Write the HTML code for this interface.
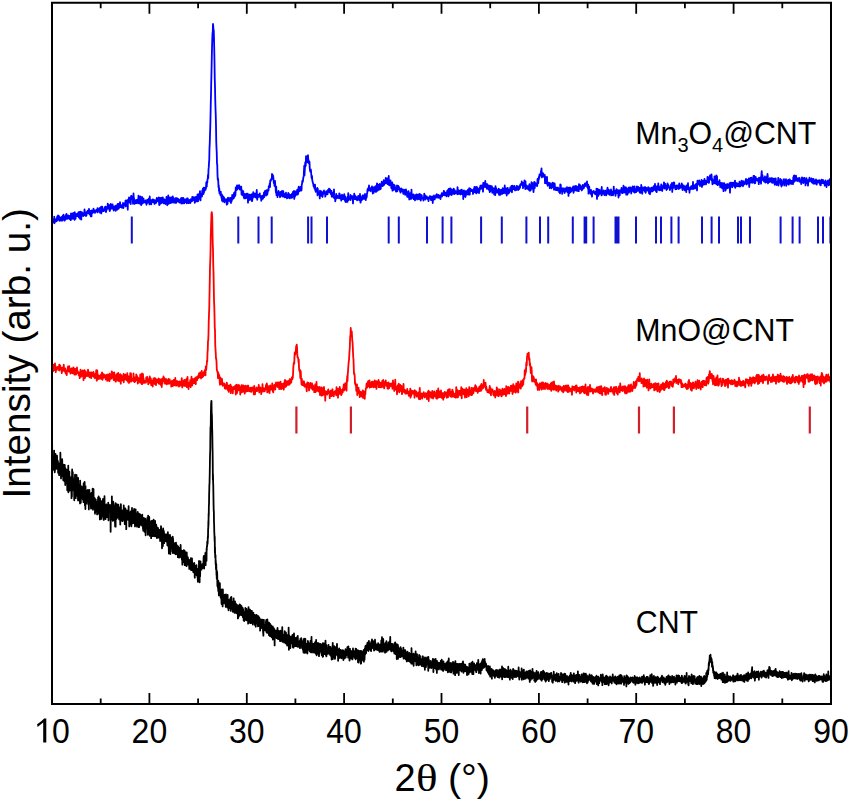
<!DOCTYPE html><html><head><meta charset="utf-8"><style>html,body{margin:0;padding:0;background:#fff;}svg{display:block;font-family:"Liberation Sans",sans-serif;}</style></head><body>
<svg width="850" height="801" viewBox="0 0 850 801">
<rect width="850" height="801" fill="#fff"/>
<path transform="translate(52.000,0) scale(0.25,0.1)" vector-effect="non-scaling-stroke" fill="none" stroke="#0000ff" stroke-width="1.8" stroke-linejoin="round" d="M0 2209l1 26 1-4 1-35 1 4 1-6 1 22 1-13 1 15 1-52 1 67 1-34 1 15 1-17 1-5 1 16 1 7 1-21 1 0 1 16 1-31 1-14 1 38 1-22 1-26 1 22 1 6 1-15 1-6 1 30 1 16 1-23 1-11 1 22 1 6 1-21 1 17 1 9 1-25 1-13 1 23 1-3 1 16 1-48 1 12 1-4 1-18 1 36 1 8 1-26 1 42 1-12 1-4 1-6 1 11 1-46 1 38 1-1 1-48 1 42 1-12 1 20 1-25 1 8 1 6 1-24 1 29 1-15 1 11 1-20 1 31 1-10 1-16 1 16 1 12 1 10 1-68 1 49 1-9 1-12 1-19 1 45 1-51 1 36 1 14 1-58 1 25 1-20 1 30 1 25 1 10 1-77 1 24 1 25 1 17 1-24 1-24 1 21 1-7 1-4 1-11 1 22 1-3 1-8 1-3 1-22 1 15 1 34 1-29 1-25 1 55 1-17 1 31 1-41 1-11 1-21 1 55 1 25 1-69 1 3 1 25 1-30 1 11 1-2 1 10 1 18 1-22 1 17 1-27 1 14 1-50 1 13 1 45 1-28 1 22 1-1 1 15 1-11 1 4 1-23 1-13 1-1 1 4 1-13 1 11 1 9 1 6 1-12 1-33 1 37 1 5 1 17 1-11 1-25 1-2 1 54 1-26 1 21 1 6 1-60 1 24 1 0 1 2 1-1 1-7 1-1 1-35 1 27 1-13 1 17 1-12 1 21 1 3 1-10 1-1 1-5 1-11 1 5 1-7 1 17 1-8 1 10 1-38 1 43 1-33 1 0 1 10 1-8 1 16 1-18 1-10 1 4 1 42 1-26 1-24 1 22 1-31 1 66 1-67 1 39 1 1 1-40 1 34 1 13 1-11 1-5 1 14 1-17 1 3 1-10 1 15 1-32 1 34 1-27 1-12 1 29 1 26 1-16 1-30 1 24 1-24 1 6 1 4 1-49 1 50 1-25 1 6 1-16 1-1 1 11 1 35 1 16 1-35 1 22 1-27 1-34 1 41 1 5 1-17 1 14 1 5 1-29 1-13 1 25 1-1 1-3 1 26 1 15 1-43 1 22 1 4 1-5 1 6 1-29 1 22 1 26 1-25 1-29 1 24 1 13 1-19 1-19 1 42 1-56 1 34 1-11 1-24 1 48 1-18 1-31 1 35 1-21 1-30 1 24 1 18 1 7 1-10 1-3 1 8 1-14 1 27 1-22 1 2 1 4 1-33 1 6 1 44 1-26 1-13 1 11 1-18 1 14 1-20 1 17 1-38 1 57 1-39 1-22 1 25 1-4 1 9 1-27 1 29 1 62 1-100 1 30 1-16 1 7 1-43 1 10 1 28 1-14 1 29 1-52 1 14 1 50 1-76 1-6 1 16 1 0 1 18 1-12 1-16 1 23 1 51 1-25 1-78 1 55 1-12 1 32 1-14 1 43 1-18 1 0 1-14 1-3 1 8 1 19 1-14 1-17 1 33 1-21 1-5 1-13 1 5 1-1 1-42 1 77 1-9 1-15 1 26 1-12 1-2 1-56 1 44 1 16 1 21 1 5 1-8 1-52 1-21 1 56 1-11 1 18 1-21 1 6 1-34 1 39 1-18 1 16 1 2 1-12 1 9 1-7 1 16 1-6 1-21 1 0 1 46 1-37 1 22 1-12 1-19 1-4 1 17 1 3 1 7 1-38 1 13 1 10 1 34 1-79 1 56 1-20 1 19 1-18 1 17 1 24 1-25 1 2 1-1 1-23 1 26 1-15 1-13 1 16 1-4 1 19 1-16 1-9 1 39 1-9 1 5 1-13 1-14 1-7 1 3 1 25 1-17 1-32 1 29 1-28 1 31 1-27 1-1 1 27 1-4 1-32 1 49 1 28 1-73 1 66 1-51 1 4 1 6 1-25 1 55 1-16 1-25 1 9 1-25 1 23 1 26 1-53 1 25 1 12 1 18 1 6 1-37 1-5 1 23 1-16 1 1 1 28 1 12 1-29 1-9 1 15 1-49 1 37 1-21 1 69 1-33 1-12 1-7 1-46 1 65 1 18 1-47 1 28 1 1 1-46 1 50 1 8 1-22 1-6 1 17 1-47 1 33 1 19 1-46 1 45 1-29 1-33 1 40 1-18 1 26 1-30 1 45 1-36 1 22 1-19 1 6 1 30 1-20 1-12 1-17 1 48 1-8 1-21 1 11 1-25 1 0 1 4 1 24 1-1 1-21 1 29 1 1 1-12 1 18 1-27 1 4 1 12 1-10 1 16 1-40 1 53 1-43 1 12 1-24 1 40 1 14 1-3 1-5 1-47 1 16 1 6 1-9 1 42 1-19 1-4 1 11 1-29 1 1 1 0 1 28 1-3 1 4 1 10 1-49 1 16 1 13 1-30 1 16 1 31 1 1 1-1 1-21 1-6 1 26 1-30 1 14 1 19 1-35 1-5 1 11 1 12 1-3 1-7 1 7 1-43 1 14 1 20 1-23 1-9 1 2 1 6 1 14 1-18 1 25 1 29 1-38 1 28 1-20 1-29 1 16 1-15 1 34 1-39 1 48 1-16 1-53 1 55 1 14 1-49 1 34 1-57 1 39 1-41 1 40 1-48 1-20 1 58 1 34 1-61 1 24 1-18 1-13 1 14 1 15 1-62 1 31 1-10 1-41 1 55 1 2 1-63 1 48 1-38 1-9 1 29 1-29 1-1 1 20 1-8 1-11 1-50 1-9 1 48 1-49 1 11 1-38 1 1 1-43 1 32 1-86 1-21 1-48 1-28 1-117 1-46 1-86 1-77 1-102 1-126 1-99 1-128 1-99 1-124 1-115 1-80 1-66 1-13 1-80 1 20 1 55 1-14 1 86 1 108 1 130 1 166 1 77 1 134 1 86 1 63 1 104 1 160 1 67 1 45 1 114 1 4 1 103 1 48 1-9 1 22 1 64 1-19 1 56 1-27 1 51 1-4 1-3 1-2 1 29 1-38 1 37 1 2 1 25 1-36 1 63 1-38 1-14 1 52 1 8 1-35 1-12 1 20 1-13 1 9 1 39 1-22 1-4 1 5 1-7 1 19 1 1 1-24 1 10 1 46 1-39 1-12 1 44 1-40 1-23 1 36 1-32 1 8 1 16 1-10 1-14 1 4 1-2 1 34 1-39 1 2 1 50 1-53 1 38 1-6 1-32 1-28 1 34 1 1 1 3 1-22 1 18 1-1 1-54 1 45 1-31 1-20 1-1 1 38 1-24 1-61 1 32 1-10 1-6 1-12 1-24 1 42 1-39 1 8 1-7 1-4 1 29 1-7 1-20 1-4 1 12 1 31 1-13 1 6 1-6 1 6 1 14 1-36 1 75 1-43 1 10 1 43 1-18 1 2 1-8 1-16 1 39 1 24 1-38 1 48 1-46 1 10 1 27 1-8 1 16 1-27 1-5 1-15 1 14 1 3 1-6 1 35 1-19 1-26 1 89 1-66 1-8 1 49 1-1 1-47 1-7 1 9 1 43 1-30 1-10 1 15 1 23 1-52 1 19 1-21 1 70 1-8 1-19 1-23 1 15 1-56 1 46 1-33 1-1 1 11 1 7 1 17 1 2 1-9 1-25 1 33 1-16 1 26 1-42 1-37 1 46 1 52 1-33 1-14 1 22 1-7 1-1 1-19 1 11 1 3 1-17 1-9 1 25 1 17 1-7 1-3 1 0 1 42 1-47 1 15 1 18 1-38 1 3 1 16 1 12 1-28 1 0 1-6 1-27 1 45 1-28 1-31 1 30 1-33 1 12 1 18 1-21 1 37 1-54 1 30 1 2 1 13 1-16 1-20 1-9 1-10 1 16 1-44 1 14 1-21 1-3 1-20 1 38 1-66 1 8 1-9 1-1 1-11 1-7 1 7 1-52 1 29 1-23 1 33 1-24 1 11 1 26 1 38 1-7 1 4 1 33 1-37 1-14 1 43 1 12 1 39 1 26 1-62 1 84 1-12 1-9 1-4 1 45 1-42 1-8 1 16 1-28 1 39 1-9 1 11 1 2 1-27 1 48 1-45 1 39 1-49 1 40 1-23 1 18 1-14 1-30 1 22 1 24 1 11 1-42 1-12 1 25 1 13 1-8 1-3 1 33 1 2 1-4 1-34 1 21 1-6 1-24 1 46 1-16 1-11 1 38 1-13 1 1 1 7 1-10 1-39 1 17 1 28 1-36 1 16 1 7 1 21 1-3 1-9 1-22 1 22 1-8 1-14 1 30 1-18 1-25 1 40 1-31 1 16 1-42 1 29 1-19 1-1 1-19 1 80 1-47 1 7 1 17 1-25 1 11 1-38 1 30 1-13 1 17 1-8 1-33 1-11 1 15 1 34 1-9 1-3 1-51 1-16 1 38 1 3 1-10 1 15 1-15 1-26 1 0 1 15 1-9 1-10 1 38 1-60 1-2 1-33 1 2 1 6 1-12 1-28 1-3 1-21 1-54 1-43 1 96 1-45 1-34 1-49 1-5 1 38 1-96 1 38 1 13 1-23 1 6 1-21 1 49 1-68 1-3 1 39 1 31 1-20 1 33 1-19 1 1 1 66 1 19 1 14 1-24 1 1 1 15 1 33 1 30 1 12 1-26 1 45 1 8 1 13 1 7 1 6 1 25 1-2 1 10 1-12 1 28 1-5 1-35 1 56 1-11 1 28 1-19 1 4 1 9 1-2 1-7 1-25 1 74 1-67 1 26 1 22 1-5 1 5 1 5 1 10 1-18 1 53 1-78 1 25 1-11 1-3 1 17 1 24 1-43 1 0 1 29 1-3 1 29 1-18 1-16 1-11 1 11 1-7 1-24 1 28 1-3 1-1 1-4 1 42 1-20 1 5 1-32 1-9 1 14 1 9 1-13 1 1 1 21 1-16 1-28 1 8 1-7 1 15 1-29 1 19 1 18 1-12 1-17 1 9 1 18 1 11 1 12 1-16 1-20 1 59 1-20 1 5 1 1 1-24 1 16 1 13 1 18 1-18 1-63 1 59 1 13 1 20 1-11 1 37 1-21 1-1 1-7 1-46 1 45 1-4 1-22 1 23 1-3 1-17 1 8 1-2 1 10 1-13 1 20 1-49 1 34 1-28 1 24 1 21 1-10 1-2 1 4 1 30 1-53 1 40 1-47 1 21 1 13 1-20 1 22 1 10 1-38 1 23 1-6 1-31 1 36 1-12 1 43 1-44 1 52 1-44 1 49 1-27 1-2 1 7 1 3 1 10 1 7 1-42 1-18 1-28 1 46 1 23 1-8 1-5 1-9 1-6 1 7 1 14 1-43 1 50 1-44 1 26 1-10 1 6 1-14 1-2 1 18 1-17 1 71 1-57 1-5 1 2 1-10 1-28 1 44 1 11 1-36 1 30 1-24 1 23 1 8 1 3 1-1 1-23 1 32 1-27 1 16 1 7 1-20 1-20 1 38 1-34 1 4 1-4 1 39 1-20 1-42 1 59 1 27 1-6 1-47 1 12 1 8 1 7 1-17 1-24 1 37 1-4 1-40 1 18 1 12 1-7 1 9 1 4 1-6 1-15 1-27 1 38 1 14 1 9 1-42 1-4 1 22 1-10 1-32 1-3 1-38 1 20 1-31 1 13 1 0 1-7 1-34 1 26 1 22 1-8 1-7 1 16 1 5 1 3 1-34 1 17 1-8 1-11 1-13 1 28 1-16 1 60 1-45 1-3 1-4 1 46 1-57 1 15 1-12 1 13 1 1 1 22 1-50 1 27 1 32 1-43 1 6 1-14 1-36 1 50 1 25 1-34 1-28 1 41 1-5 1 17 1-3 1-25 1 12 1-45 1 56 1-20 1 16 1-2 1-29 1 1 1-17 1-26 1 36 1 3 1-27 1 33 1-15 1 5 1-28 1-22 1 48 1-6 1-17 1-9 1 1 1 1 1-10 1-31 1 54 1-47 1 23 1 0 1 11 1-37 1 57 1-11 1 4 1 11 1-39 1-45 1 72 1 22 1-1 1-31 1 11 1 10 1-39 1 26 1 3 1 47 1-42 1 47 1-28 1-32 1 81 1-62 1 34 1 24 1-43 1-12 1 47 1-18 1-24 1 5 1 15 1 28 1-24 1 20 1 21 1-7 1 5 1-4 1-56 1 58 1-18 1-8 1-19 1-9 1 10 1 23 1-22 1 8 1 5 1 27 1-18 1 4 1 31 1-31 1 20 1-32 1 29 1-2 1 3 1-12 1-9 1 16 1-2 1 32 1-1 1-41 1 38 1-20 1 20 1-18 1-18 1 50 1-10 1-32 1-12 1 28 1-12 1 18 1 21 1 18 1-36 1 36 1-3 1-31 1-23 1 51 1-3 1 36 1-18 1-11 1 19 1-54 1 26 1-8 1 41 1-23 1-71 1 89 1-44 1 34 1-24 1 15 1 9 1-8 1-23 1 48 1-19 1-8 1 15 1-25 1 49 1-33 1 3 1 0 1-25 1-5 1 28 1 3 1 20 1-17 1-31 1 32 1 7 1 3 1-13 1-31 1 48 1-38 1 27 1-43 1 47 1-31 1 37 1 14 1-12 1-46 1 5 1 1 1 31 1-6 1-4 1 3 1 6 1 2 1 21 1-35 1 5 1-41 1 11 1 13 1-10 1 28 1 17 1-29 1-1 1-1 1 13 1-13 1 20 1-3 1 1 1 9 1-15 1 3 1 32 1-36 1 17 1-15 1-10 1 0 1-7 1 17 1-12 1 4 1 32 1-27 1 26 1-17 1 12 1-30 1 16 1 49 1-36 1 4 1-16 1 13 1-40 1 6 1 25 1 8 1-24 1 4 1-4 1 4 1-21 1-5 1 27 1-34 1 14 1 6 1-9 1 25 1-14 1 6 1-20 1 5 1 24 1-4 1-18 1 15 1-4 1-2 1 27 1-41 1 15 1-1 1-14 1-20 1 35 1-9 1-6 1-2 1-1 1-19 1 22 1-43 1 35 1-31 1 22 1 20 1-20 1-5 1 19 1-17 1-4 1 0 1 37 1-18 1-5 1-34 1 35 1-40 1 35 1-33 1 60 1-74 1 57 1-9 1-52 1 29 1 33 1-7 1-57 1 22 1-14 1 2 1 7 1 49 1-35 1-8 1-3 1 20 1 0 1-33 1 47 1-51 1 16 1 14 1 25 1-41 1 12 1 21 1-14 1 11 1-2 1-15 1 8 1 6 1-18 1 33 1-71 1 22 1 48 1-19 1-21 1 22 1 15 1-32 1 27 1-17 1 2 1 1 1 25 1-44 1 16 1 22 1-37 1-6 1 44 1-11 1-2 1 6 1-21 1 78 1-77 1 11 1-19 1 20 1 39 1-30 1 12 1-22 1 46 1-34 1-28 1 40 1-24 1 19 1-10 1 2 1-3 1-22 1-13 1 49 1-24 1 8 1-16 1-33 1 14 1 52 1-44 1 6 1-22 1 17 1 2 1 2 1 2 1-12 1 0 1 10 1 6 1-11 1 37 1-31 1-2 1-17 1 33 1-42 1-12 1 12 1 32 1-36 1 49 1-27 1-30 1 25 1 40 1-54 1-10 1 36 1 15 1-7 1-28 1 10 1 1 1 16 1 18 1-47 1 27 1-35 1 17 1-33 1 2 1 21 1-29 1 34 1-31 1 10 1-6 1-7 1 7 1 17 1 39 1-88 1 28 1-10 1-16 1 23 1-23 1 16 1 27 1-64 1 47 1 5 1-26 1 32 1-1 1-12 1 34 1-48 1 41 1-15 1-14 1 20 1-1 1 26 1-45 1 29 1-4 1 43 1-53 1 46 1-55 1 43 1-8 1 11 1-20 1-24 1 9 1 58 1-22 1-21 1 36 1-32 1 1 1-9 1 49 1 16 1-58 1 26 1 14 1 23 1-90 1 52 1 10 1-42 1 38 1-3 1 11 1-26 1 20 1-20 1 25 1-9 1-10 1-21 1 62 1-11 1-4 1-31 1 6 1 41 1-19 1-32 1 18 1 2 1-7 1-15 1 44 1-14 1-16 1-28 1 20 1 11 1 17 1-25 1 29 1-19 1-18 1-42 1 32 1-7 1 27 1 9 1 21 1-29 1-23 1 70 1-42 1-12 1 0 1-23 1 40 1-6 1 24 1-11 1-5 1 7 1-31 1-4 1 8 1-25 1 22 1-5 1 19 1-14 1-39 1 38 1 27 1-66 1 20 1 15 1-28 1 15 1 11 1-29 1 32 1 1 1-34 1 25 1 20 1-26 1 12 1 3 1-18 1 24 1-12 1-29 1 30 1 6 1-2 1-30 1 20 1 17 1-24 1 17 1 0 1-28 1 11 1-21 1 24 1-26 1-12 1 7 1-4 1 6 1-1 1-35 1 8 1 18 1 1 1-9 1 50 1-30 1-23 1 18 1 14 1-17 1-40 1 40 1 2 1 44 1-76 1 70 1-31 1 24 1-22 1 12 1 21 1-19 1 20 1-21 1-5 1 5 1-5 1 8 1 30 1-50 1-9 1 33 1 34 1-13 1 6 1-2 1-39 1 16 1-55 1 40 1 24 1-44 1-11 1 15 1 29 1 18 1 28 1-25 1-60 1-18 1 47 1 16 1-56 1 20 1-2 1 6 1-8 1 10 1 6 1-24 1 8 1 19 1-66 1-7 1 24 1 20 1-42 1 11 1-36 1 17 1-38 1 18 1-12 1-7 1 14 1-11 1-37 1 28 1-53 1 54 1 37 1-42 1 4 1-4 1 21 1-20 1 29 1-12 1 4 1 18 1 4 1-27 1 83 1-33 1-31 1 61 1-17 1 9 1 15 1-28 1-38 1 60 1 10 1 18 1-33 1 12 1 15 1-13 1 3 1 11 1-24 1 52 1-49 1 20 1-7 1-7 1 25 1 10 1 10 1-17 1-21 1 27 1-45 1 30 1 11 1 2 1-33 1-6 1 65 1-42 1-21 1 10 1 27 1 26 1-22 1 26 1-17 1 7 1 12 1-25 1 15 1-12 1-3 1 28 1-28 1 20 1-16 1 15 1-8 1 34 1-20 1 1 1 31 1-90 1 36 1-33 1 55 1 9 1 5 1-8 1-22 1 53 1-29 1-11 1-17 1 31 1-18 1 0 1 14 1 0 1-21 1 42 1-45 1-2 1 28 1-3 1-1 1-10 1 9 1-12 1-22 1 48 1-35 1 16 1 19 1-15 1 54 1-83 1 13 1 16 1 25 1-33 1-24 1 51 1-42 1 14 1 21 1-31 1 3 1 19 1-15 1 9 1-25 1 16 1-20 1-10 1 65 1-26 1 9 1-39 1 19 1-5 1-24 1 39 1-26 1 10 1-27 1 49 1-5 1-8 1-26 1 7 1 34 1-30 1 10 1-3 1-26 1 52 1-71 1 44 1-7 1-32 1 39 1 3 1-11 1-18 1 24 1 12 1-19 1 29 1-19 1-4 1 11 1-44 1 1 1 18 1-3 1 18 1-10 1-21 1-2 1-11 1-3 1-3 1 27 1-27 1 4 1 13 1-10 1 10 1-35 1 56 1-8 1 15 1 9 1-40 1 90 1-40 1 4 1-35 1 51 1-1 1-13 1 14 1 22 1-31 1-10 1 46 1-20 1-8 1 50 1-42 1-6 1 9 1-13 1 13 1-1 1-16 1 8 1 12 1 1 1 5 1 4 1-11 1 6 1-18 1 3 1 26 1-60 1 47 1 56 1-101 1 68 1-66 1 43 1 25 1-3 1-48 1-8 1-2 1 43 1-22 1 7 1 5 1 3 1 3 1-8 1-35 1 61 1-84 1 80 1-37 1 8 1-6 1 3 1 7 1-6 1-16 1 39 1-29 1 39 1-30 1-11 1 23 1 9 1-36 1 12 1 35 1-49 1 3 1 20 1-27 1-25 1 16 1 40 1 6 1-1 1-4 1-33 1 38 1 10 1-37 1 33 1-26 1 11 1 3 1-37 1 59 1-46 1 15 1-8 1 19 1-1 1-8 1 28 1-23 1-14 1-50 1 52 1-1 1-12 1 0 1 28 1 9 1 16 1-15 1-38 1 19 1-33 1 41 1-8 1-20 1 10 1-4 1-8 1 38 1 35 1-46 1 4 1-19 1-11 1 51 1-52 1 14 1-10 1 13 1-13 1 12 1-38 1 23 1 29 1-49 1 7 1 41 1-20 1 13 1-67 1 48 1-29 1-3 1 36 1 16 1-54 1 8 1 10 1 9 1-24 1 72 1-34 1-19 1-3 1 57 1-2 1-55 1 17 1 18 1-49 1 12 1 39 1-41 1 5 1-18 1 11 1 29 1-30 1-10 1 14 1 48 1-32 1-15 1 14 1 6 1-6 1-39 1 42 1-10 1 21 1-44 1 48 1-31 1-24 1 61 1-37 1 17 1-10 1 25 1 0 1 0 1-8 1-47 1-1 1 38 1-24 1 29 1-6 1-32 1 7 1-2 1 5 1 14 1 18 1 13 1-47 1 9 1 42 1-13 1-14 1-52 1 27 1 24 1-15 1 52 1-39 1 4 1-28 1 1 1 7 1 1 1 8 1 12 1-3 1 16 1-48 1 31 1 1 1 27 1-37 1 11 1-23 1 25 1-1 1-20 1 3 1 8 1 13 1-35 1 40 1-24 1 45 1-9 1-38 1-5 1 62 1-37 1-1 1-20 1 5 1 19 1-4 1-29 1 41 1-19 1-25 1 39 1-24 1 19 1-27 1 18 1-40 1 40 1-38 1 33 1-54 1 49 1 16 1-5 1 14 1-46 1 53 1 0 1-57 1 7 1 4 1 11 1 4 1-55 1 62 1-18 1-16 1 39 1-27 1 29 1-12 1-18 1 29 1-8 1-27 1-23 1 21 1 23 1-18 1 40 1-31 1-2 1 4 1-27 1 15 1-11 1-34 1 11 1 50 1-24 1 6 1-27 1 18 1 27 1-14 1-13 1 42 1-33 1-6 1 30 1-58 1 46 1-34 1 7 1 2 1 16 1-1 1 4 1-2 1 24 1 5 1-20 1 1 1-23 1-14 1 34 1-12 1 17 1-55 1 91 1-80 1 27 1 19 1-48 1 16 1-29 1 11 1-10 1 41 1 4 1-13 1 32 1 3 1-28 1-5 1-1 1-4 1 36 1-22 1-11 1 2 1 15 1-19 1 14 1-7 1 28 1-4 1-52 1 26 1 17 1-23 1 25 1-9 1 5 1-13 1 8 1 5 1-40 1 11 1-1 1 55 1-28 1 2 1-3 1-13 1-4 1 32 1-23 1 40 1-28 1-1 1-6 1 4 1 3 1 30 1 17 1-69 1 29 1 9 1-31 1 6 1 4 1-39 1 62 1-14 1 0 1 3 1 4 1 42 1-43 1 13 1-27 1 17 1-14 1 3 1-16 1 1 1 24 1 5 1-7 1-24 1 19 1-59 1 68 1-21 1 5 1 16 1-33 1 26 1-30 1 18 1-20 1 13 1 21 1-43 1-1 1 5 1 11 1 49 1-68 1-30 1 27 1-20 1 20 1 10 1-20 1 5 1-25 1 40 1-19 1 36 1-2 1-39 1 9 1 8 1 14 1-50 1 32 1 38 1-40 1 6 1-5 1-24 1 42 1-14 1-2 1 11 1 0 1-54 1 47 1-21 1 14 1-18 1-4 1 36 1-20 1-7 1-1 1 6 1-4 1-50 1 27 1 10 1 16 1 7 1-51 1 52 1-43 1 2 1-26 1-7 1 37 1-35 1 3 1 27 1 15 1-59 1 31 1 10 1 42 1 18 1-45 1 12 1 14 1 9 1-27 1 25 1-30 1-38 1 27 1 33 1 12 1-61 1 10 1 36 1-67 1 79 1 10 1-81 1 76 1-19 1 33 1-22 1-10 1 9 1 17 1-14 1-1 1-29 1 41 1-8 1 38 1-36 1 0 1-9 1 29 1-17 1-9 1 48 1 5 1-43 1-10 1 44 1-38 1 74 1-58 1 23 1-45 1 26 1 23 1-13 1-20 1 60 1-34 1-20 1-7 1 6 1 33 1-43 1 16 1-17 1 41 1-29 1 21 1-7 1-23 1 26 1 4 1-42 1 37 1 57 1-78 1 18 1-40 1 36 1-22 1 27 1-17 1-23 1 46 1-27 1-17 1 22 1-21 1 27 1-10 1-7 1 21 1-40 1 45 1-60 1 72 1-29 1-10 1-10 1 26 1-15 1-1 1 24 1-30 1 3 1 13 1 13 1-26 1 6 1-3 1 13 1 15 1-50 1 16 1 1 1 12 1 18 1-32 1 4 1 18 1-48 1 9 1 5 1 9 1 4 1-16 1 46 1-51 1 10 1 25 1-6 1-17 1 8 1 8 1-17 1 13 1-32 1 19 1-35 1 15 1-6 1 48 1-35 1 15 1-25 1 14 1-2 1-12 1 35 1-52 1 46 1 41 1-71 1 17 1-33 1 31 1-35 1 48 1-24 1-27 1 10 1-6 1 26 1 23 1-26 1-16 1 7 1 19 1-53 1 62 1-4 1-59 1 74 1-58 1 29 1 28 1-58 1-4 1 14 1 1 1 19 1-8 1 0 1 0 1 6 1-14 1 24 1-8 1-21 1 58 1-64 1 41 1-31 1 21 1 2 1 5 1 8 1-52 1 66 1-62 1-39 1-24 1 70 1-9 1-21 1 30 1 23 1-16 1-5 1 11 1 20 1-15 1-25 1 41 1-51 1 21 1 40 1-20 1 0 1-2 1 18 1-22 1-38 1 44 1-67 1 21 1 74 1-11 1-31 1 8 1 3 1 19 1-36 1-3 1 6 1 15 1 3 1-13 1 24 1-37 1 20 1-12 1-6 1 46 1-31 1-14 1 22 1-20 1 33 1 6 1 4 1-42 1 20 1 41 1-41 1 31 1 6 1-59 1 54 1-9 1 3 1 17 1-24 1-7 1 11 1-19 1 18 1-51 1 77 1-46 1 23 1-5 1-4 1 1 1-1 1-35 1 23 1 35 1-45 1-1 1 65 1-18 1 7 1-32 1 6 1 10 1-4 1-13 1-28 1 15 1-16 1 63 1-40 1 4 1 10 1-6 1 11 1-24 1-18 1 66 1-50 1 5 1-7 1 5 1 12 1 15 1-37 1 27 1-20 1 38 1-49 1 27 1 12 1-43 1 30 1 0 1-19 1 11 1 24 1-16 1-14 1 3 1 12 1 15 1-10 1-3 1 15 1-65 1 1 1-19 1 61 1-66 1 44 1 14 1-46 1 13 1 6 1 19 1-47 1 36 1 7 1-11 1 0 1 23 1-20 1-4 1-6 1 21 1-17 1 20 1-10 1 22 1-37 1 18 1 7 1 2 1 15 1-14 1 11 1 22 1-22 1-38 1-7 1 42 1-20 1 13 1-9 1 30 1-2 1-47 1 28 1-11 1-20 1 39 1-16 1 12 1 41 1-23 1-4 1-30 1-15 1 49 1-31 1 8 1-8 1 10 1 47 1-54 1 1 1 11 1 2 1-29 1-11 1 24 1 9 1-11 1-4 1 2 1 11 1 7 1-30 1 22 1 19 1-9 1-25 1 21 1 7 1 16 1-47 1 46 1-22 1 13 1 10 1-31 1 1 1 14 1 17 1-25 1-18 1 14 1 22 1 16 1-34 1 4 1 3 1 1 1-17 1 10 1 14 1-3 1-1 1-21 1 9 1-3 1 35 1 8 1-22 1 25 1-38 1 0 1-20 1 31 1-14 1 11 1 8 1-15 1-17 1 21 1 0 1 2 1 13 1-18 1-1 1 40 1-13 1-23 1-17 1 10 1 16 1 10 1 31 1-52 1 8 1-10 1 9 1-8 1-14 1 42 1-17 1 24 1-35 1 15 1 9 1-50 1 12 1 41 1-12 1-38 1 22"/>
<path transform="translate(52.000,0) scale(0.25,0.1)" vector-effect="non-scaling-stroke" fill="none" stroke="#ff0000" stroke-width="1.8" stroke-linejoin="round" d="M0 3675l1 25 1-7 1 0 1 21 1-66 1 14 1-16 1 29 1 26 1-24 1 13 1-56 1 48 1-24 1 63 1-20 1 2 1-24 1 16 1 2 1-23 1-4 1 10 1-11 1 0 1 8 1-10 1 35 1-55 1 58 1-34 1 2 1-18 1 29 1-2 1 10 1-16 1 15 1 41 1-33 1-23 1 37 1-25 1 17 1 1 1-23 1-36 1 38 1 22 1-22 1 20 1 13 1-35 1 42 1 10 1-13 1 3 1-1 1 28 1-48 1-4 1 15 1-35 1-15 1 17 1 30 1 3 1-47 1-7 1 37 1 4 1 4 1 17 1 14 1-23 1 10 1-39 1-1 1 33 1 11 1 2 1-2 1 5 1 1 1-59 1 25 1 28 1 4 1-49 1 64 1-37 1 6 1 12 1 12 1-51 1 58 1-21 1-19 1 12 1-44 1 37 1 20 1-21 1 10 1 5 1 5 1 23 1-24 1-5 1 20 1 36 1-56 1 21 1-49 1 69 1-16 1 17 1-33 1-22 1 46 1-3 1-38 1-13 1 45 1-14 1 66 1-76 1 3 1 10 1-36 1 19 1 60 1-42 1-10 1-16 1 44 1 3 1-9 1-15 1 17 1 2 1-25 1 31 1-64 1 20 1 24 1 5 1-25 1 36 1 17 1-14 1-5 1 15 1-10 1-36 1 23 1 35 1-57 1 29 1-11 1-11 1-3 1 27 1 5 1 0 1-41 1 28 1 15 1 14 1-6 1 4 1 7 1-6 1-39 1 21 1-18 1-39 1 17 1 89 1-75 1-27 1 40 1 49 1-36 1 11 1-16 1 4 1 32 1-10 1-21 1 23 1 5 1-31 1 12 1 0 1-22 1 43 1-30 1-11 1-24 1 9 1 66 1-62 1 37 1-19 1 21 1 2 1-32 1 12 1 9 1 1 1-4 1-6 1 22 1 16 1-18 1-30 1 27 1-7 1 9 1 33 1-48 1 4 1-20 1 14 1-6 1 51 1-30 1-21 1 59 1-76 1 51 1 4 1-10 1-20 1 4 1-5 1 26 1-73 1 43 1 16 1-17 1-29 1 37 1-12 1 36 1 15 1-31 1-47 1 40 1-17 1 38 1 24 1-32 1 40 1-12 1-19 1-36 1 25 1-36 1 58 1-21 1 29 1-25 1-52 1 61 1 7 1 17 1-62 1 2 1 23 1-26 1-8 1 7 1 87 1-76 1-9 1 13 1 11 1 30 1-8 1-4 1-17 1 3 1-19 1-20 1 83 1-58 1 35 1-31 1 5 1-1 1-29 1 31 1 11 1 11 1-8 1 13 1-17 1-7 1-46 1 34 1 50 1-33 1 16 1-23 1-11 1 65 1-39 1 27 1-22 1-19 1-45 1 55 1-38 1-15 1 82 1-12 1-1 1-14 1-1 1 11 1-5 1-2 1 17 1-75 1 79 1-35 1 35 1 9 1-47 1 39 1 0 1-35 1 4 1 16 1-55 1 43 1 15 1-15 1-26 1 29 1 45 1-4 1-34 1-16 1 19 1 1 1-16 1 9 1 23 1 7 1-79 1 81 1-20 1 24 1-27 1 11 1 28 1-108 1 108 1-33 1-47 1-20 1 70 1-31 1 48 1-18 1-8 1 26 1-18 1 13 1 2 1-12 1 11 1 0 1-50 1 26 1 3 1-5 1-29 1 24 1 22 1-3 1 31 1-50 1 4 1-3 1 6 1-6 1-30 1 52 1 15 1 4 1-52 1 21 1 48 1-46 1 11 1-11 1 27 1-1 1 32 1-42 1-2 1-38 1 19 1-7 1 9 1-23 1 59 1-53 1 32 1-36 1 38 1 31 1-58 1 28 1-10 1 8 1 3 1-24 1 11 1-10 1-5 1-10 1 52 1-40 1 33 1-2 1-36 1 48 1-45 1 35 1 20 1-51 1-5 1 0 1 76 1-62 1-21 1 49 1-23 1 3 1-22 1-29 1 35 1-7 1-13 1 12 1 4 1 41 1-2 1-5 1-24 1-17 1 37 1 4 1 13 1-24 1-3 1 11 1-29 1 3 1 34 1-45 1 28 1 21 1-13 1 5 1-36 1 23 1-3 1 20 1-4 1-9 1 44 1-31 1-20 1-7 1 13 1-12 1 52 1-25 1-21 1-8 1-9 1 19 1 37 1-11 1-21 1 5 1-47 1 61 1-22 1 37 1-36 1-7 1 16 1-20 1 47 1-25 1 2 1-1 1-16 1 20 1-7 1 37 1-40 1 8 1-20 1 2 1 2 1 38 1-29 1 22 1-29 1-3 1-36 1 65 1 29 1-54 1 39 1-14 1-36 1 34 1-39 1 14 1 36 1-25 1-31 1 61 1-59 1 22 1-5 1 4 1-16 1-18 1 82 1-66 1 1 1-36 1 59 1 28 1 3 1 32 1-30 1-26 1-9 1 33 1-35 1 6 1-28 1 25 1 44 1-49 1 11 1-66 1 87 1-23 1 24 1-28 1-26 1-13 1 43 1-14 1-23 1 21 1-15 1 31 1-28 1-21 1 25 1-12 1 46 1-48 1-22 1 28 1-7 1 10 1-4 1-32 1 20 1-4 1-29 1 11 1 15 1-45 1 8 1 11 1 6 1 11 1-47 1 36 1 6 1 20 1-48 1-13 1-15 1 48 1 17 1-47 1 26 1 9 1 1 1-33 1 23 1-18 1-24 1 26 1-2 1-36 1 26 1 29 1-91 1 40 1-8 1-37 1-14 1-38 1 8 1-89 1-23 1-92 1-6 1-66 1-125 1-68 1-65 1-129 1-131 1-150 1-57 1-84 1-172 1-80 1-80 1-63 1-13 1 19 1 29 1 161 1 107 1 60 1 158 1 63 1 136 1 147 1 54 1 94 1 127 1 24 1 156 1 37 1 40 1 54 1 0 1 30 1 68 1 25 1 0 1 12 1 2 1 57 1-57 1 23 1 16 1-16 1 11 1 13 1 53 1 24 1-30 1-42 1 27 1 15 1 0 1 1 1 24 1-55 1 34 1 21 1 15 1-8 1-5 1-1 1-11 1 20 1-5 1-11 1 47 1 1 1-35 1 24 1 15 1-20 1-3 1 10 1-49 1 6 1 47 1-5 1 27 1-43 1 38 1 0 1 22 1-64 1 11 1 15 1 1 1-29 1 10 1-16 1 85 1-55 1 2 1-14 1 16 1 18 1-26 1 8 1 52 1-29 1-16 1-15 1 10 1-17 1 25 1-22 1-1 1 8 1-16 1 30 1 55 1-74 1-24 1 62 1-25 1 49 1-37 1 13 1-40 1-19 1 33 1 20 1-35 1-17 1 23 1 4 1 3 1 7 1 57 1-56 1-12 1-13 1 44 1-56 1 71 1-34 1-34 1 39 1-7 1 32 1-64 1 40 1-5 1 22 1-48 1 9 1 64 1-33 1-47 1 42 1-26 1 3 1-13 1 52 1-35 1 17 1-3 1-37 1 18 1 36 1-55 1 43 1-8 1 17 1 1 1 4 1-18 1 5 1-23 1 4 1 34 1-35 1 38 1 0 1-42 1 32 1-32 1 27 1-26 1 26 1-4 1-28 1 72 1-25 1-60 1 46 1-18 1 58 1-49 1 10 1-13 1 19 1-27 1-9 1 10 1 2 1 24 1-12 1-13 1 1 1-12 1 25 1-51 1 43 1 33 1-36 1-7 1 16 1-23 1 4 1 34 1-31 1 60 1-33 1-15 1-13 1 8 1-47 1 58 1 15 1-8 1-25 1 24 1 0 1-18 1 10 1 16 1-15 1-20 1 8 1 3 1-42 1 40 1-7 1-48 1 9 1 82 1-41 1 29 1-41 1 44 1-23 1-31 1 22 1 30 1 19 1-45 1-23 1-10 1 36 1 9 1-23 1-7 1 21 1-8 1-3 1-45 1 27 1 51 1-45 1 57 1-49 1-16 1 13 1 6 1-31 1 22 1-16 1 43 1-46 1 13 1-38 1 2 1 30 1-20 1 14 1 11 1 8 1-47 1 28 1 19 1-31 1-16 1 14 1 54 1-38 1 36 1-44 1 35 1-63 1 28 1 8 1 39 1-31 1 15 1-37 1 0 1 39 1 4 1-5 1-1 1-41 1 62 1-47 1 26 1-13 1-60 1-4 1 7 1 36 1 27 1-33 1 25 1-49 1 14 1-8 1 21 1-28 1 24 1 15 1-26 1-11 1 9 1-19 1 2 1 42 1-13 1-45 1 24 1 14 1 4 1-8 1 2 1-31 1-7 1-15 1 21 1-18 1 7 1-31 1-63 1-35 1-19 1-10 1 12 1-72 1-39 1 20 1 1 1-20 1 4 1-52 1-18 1 5 1-19 1 27 1 61 1 39 1 2 1 0 1 12 1 35 1-26 1 80 1 27 1-2 1 21 1-24 1 73 1 13 1-73 1 61 1 31 1 38 1-54 1 25 1 40 1-20 1-13 1-3 1 14 1-17 1 44 1-43 1 36 1 10 1 7 1-24 1-1 1 9 1-5 1 25 1-27 1 49 1 21 1-80 1 26 1-36 1 46 1-7 1-14 1-19 1 26 1 48 1-9 1-28 1-22 1 14 1-17 1-12 1 10 1 38 1-6 1-2 1-29 1-7 1 58 1-31 1 37 1-44 1 41 1-16 1-15 1 1 1 56 1-22 1-27 1 11 1-40 1 78 1-6 1-42 1 22 1-76 1 90 1-11 1-4 1 15 1-12 1-29 1 8 1 13 1 27 1-19 1-16 1 26 1-37 1 80 1-41 1-29 1 28 1 23 1-11 1 36 1-81 1 73 1-38 1 23 1 21 1-68 1-4 1 25 1-30 1-7 1 50 1 26 1-38 1 24 1 75 1-78 1-15 1 4 1 15 1-17 1 24 1-11 1 17 1-17 1-5 1-20 1-10 1 26 1-2 1 16 1-8 1-7 1 63 1-45 1 21 1-52 1 48 1 4 1-17 1-31 1 51 1-47 1-19 1-2 1 40 1-13 1 31 1-3 1 16 1-24 1-6 1-2 1-19 1-1 1 2 1 22 1-26 1 17 1 27 1-82 1 35 1-4 1 22 1-36 1 19 1 68 1-87 1 29 1 6 1-13 1-23 1 51 1-70 1 21 1 16 1-10 1 41 1-36 1 51 1-47 1 36 1-28 1-17 1-2 1 30 1-39 1 11 1-20 1-31 1 59 1 0 1-46 1 37 1-20 1-44 1 18 1 32 1 2 1-24 1 47 1-70 1-41 1-35 1 50 1-69 1-25 1-40 1-33 1-26 1-19 1-39 1-47 1-28 1-75 1-49 1-9 1-71 1 55 1-11 1 9 1-19 1 42 1 47 1 15 1 41 1 64 1 51 1 22 1 79 1 64 1-6 1 12 1 23 1 68 1-11 1 24 1 6 1-7 1 60 1-33 1 17 1-48 1 107 1-29 1-17 1-13 1 7 1-23 1 54 1-30 1 33 1 2 1 37 1-39 1 3 1 6 1-25 1 10 1 15 1 21 1-9 1-23 1 37 1-37 1-26 1 73 1-35 1-11 1-17 1 19 1 49 1-44 1 49 1-59 1 18 1-35 1-21 1-10 1-6 1-32 1-10 1 29 1 14 1-31 1-6 1-24 1 49 1-2 1-52 1 29 1-9 1-27 1 73 1-10 1-20 1 26 1-45 1 19 1 25 1-39 1 15 1-30 1 38 1 12 1-50 1 4 1 17 1 35 1-45 1-8 1 17 1 30 1-63 1 32 1 35 1-32 1-6 1 27 1-48 1 77 1-38 1-20 1 11 1-3 1-6 1-22 1 23 1-34 1 72 1-58 1 9 1-2 1 36 1-22 1 39 1-45 1 15 1-5 1-6 1 34 1 3 1 2 1-63 1 41 1-35 1 0 1-15 1 20 1 37 1 19 1 8 1-62 1 7 1 21 1-2 1 2 1-46 1 37 1 18 1-7 1-8 1-14 1 15 1 40 1-25 1 13 1 15 1-64 1 41 1-4 1 21 1-37 1 1 1-10 1 20 1-10 1 3 1 13 1-17 1-12 1 13 1-2 1 24 1 20 1-37 1-48 1 72 1-14 1-20 1 18 1 50 1-77 1 8 1 28 1-71 1 63 1 35 1-9 1-2 1-16 1 6 1 69 1-58 1 28 1-60 1 36 1 4 1-4 1-53 1 42 1 45 1-20 1-30 1 40 1-64 1 59 1-5 1-21 1-9 1-14 1 35 1 47 1-20 1-9 1 13 1-35 1 28 1-80 1 58 1 1 1 11 1-2 1 19 1-27 1 37 1-27 1 28 1-17 1 18 1-8 1-24 1 19 1-34 1 32 1 9 1-15 1 4 1 27 1 6 1 6 1-46 1 4 1 29 1 3 1-63 1 90 1-19 1-55 1 57 1-37 1 8 1-20 1 5 1 10 1 12 1-27 1 25 1-15 1 5 1-8 1 7 1 53 1-75 1 7 1 30 1-9 1-13 1 35 1-37 1 28 1 23 1-9 1-19 1 7 1 5 1 10 1-36 1 53 1-12 1 26 1-23 1 4 1-93 1 60 1 54 1-34 1-20 1 28 1-14 1 7 1-26 1 30 1 23 1-30 1 5 1-26 1 28 1-21 1-22 1 22 1 4 1 19 1 9 1-27 1-4 1 24 1-37 1 14 1 2 1 2 1-11 1 53 1-16 1-27 1-30 1 22 1 26 1-60 1 104 1-60 1 1 1 16 1-49 1 35 1-2 1 17 1-41 1 39 1 13 1-21 1-20 1-8 1-22 1 29 1 25 1 23 1-11 1 4 1-40 1 1 1-26 1 20 1-11 1 21 1 21 1-19 1-5 1 24 1 19 1-10 1-66 1 81 1-51 1-24 1 25 1 32 1-86 1 93 1-26 1 8 1-46 1 19 1-14 1 55 1-46 1 26 1-24 1-24 1 60 1 7 1 7 1-49 1 14 1 15 1-8 1-3 1 49 1-65 1 31 1-34 1 46 1-40 1-17 1 40 1-16 1-11 1 4 1-10 1 27 1-5 1 31 1-55 1 49 1-21 1-46 1 68 1-77 1 53 1-56 1 50 1-15 1 2 1-39 1 27 1 45 1-13 1-16 1-2 1-12 1 49 1-35 1 26 1-61 1-2 1 69 1-53 1 16 1 16 1 10 1-7 1-2 1 25 1-33 1 16 1-21 1 3 1 40 1-51 1-54 1 62 1 2 1 39 1-53 1-19 1 30 1 41 1-52 1 38 1-19 1 4 1-36 1 21 1-21 1 19 1-17 1 43 1-40 1 7 1-48 1 30 1 81 1-68 1-29 1 37 1-5 1-7 1 5 1-5 1 33 1-50 1 33 1 15 1-42 1 75 1-53 1-4 1-11 1 32 1-57 1 51 1 39 1-45 1 12 1-42 1 40 1-37 1 8 1 10 1 45 1-59 1-33 1 49 1 15 1-3 1-11 1 27 1-12 1-1 1-31 1-25 1 72 1-60 1 51 1-4 1-56 1 11 1 25 1 12 1-47 1 15 1-19 1-5 1 30 1-14 1-38 1 57 1-20 1-1 1-23 1 47 1-10 1-1 1-10 1 10 1 28 1-34 1 1 1-18 1 26 1-22 1-13 1 43 1-32 1-19 1 3 1 2 1-15 1 58 1-22 1-48 1 58 1-39 1 13 1-17 1 18 1-2 1 9 1 1 1-80 1 50 1 12 1-3 1-27 1 28 1 7 1-41 1 31 1 41 1-32 1 16 1 7 1 15 1 8 1 10 1-19 1 4 1-6 1 10 1-6 1 22 1 1 1-48 1-20 1 65 1-22 1-23 1 59 1 14 1-62 1 5 1 7 1-3 1 16 1-23 1 26 1-9 1 35 1-27 1 23 1 15 1-23 1 3 1-27 1 12 1 54 1-21 1-32 1-10 1 6 1 30 1-75 1 55 1-37 1 65 1-68 1 56 1-29 1 8 1 38 1-39 1 17 1-7 1-37 1 27 1 24 1-15 1-4 1-22 1 54 1-50 1 55 1-38 1 12 1-51 1 36 1-26 1 24 1 26 1-21 1-3 1 17 1-52 1 30 1-17 1 39 1-43 1 54 1 10 1-100 1 46 1-35 1 67 1-51 1 35 1-8 1-31 1-15 1 62 1-41 1 20 1 26 1-35 1-7 1-18 1 35 1-32 1-21 1 25 1-2 1-24 1 32 1 24 1-7 1 34 1-22 1-22 1-55 1 52 1 23 1-36 1 39 1-57 1 28 1 12 1 20 1-43 1 47 1-56 1-35 1 39 1 34 1-42 1 47 1-45 1 49 1-100 1 107 1-105 1 47 1-29 1 35 1-14 1-3 1 21 1 7 1-33 1 36 1-74 1 14 1-10 1 42 1 7 1-36 1-10 1-18 1 40 1 5 1-49 1 1 1-15 1-1 1 0 1-78 1 27 1 18 1-58 1 35 1-14 1-76 1-14 1 33 1-89 1-2 1-27 1 29 1 1 1 0 1-4 1-36 1 71 1-18 1 6 1 67 1-21 1 23 1 29 1 46 1-32 1 33 1-59 1 47 1 87 1 9 1-42 1-9 1-3 1 11 1 21 1-22 1 44 1 2 1-23 1 2 1 5 1 19 1 8 1 21 1-55 1 36 1 10 1 8 1 14 1-30 1 41 1 27 1-44 1 27 1-13 1-12 1-15 1 12 1 44 1-47 1-20 1 7 1 32 1-34 1 38 1-4 1-12 1 36 1-72 1 19 1 10 1 14 1-42 1 19 1 46 1-41 1 32 1-27 1-13 1 31 1 20 1-33 1-30 1 13 1 8 1 5 1-16 1 40 1-42 1 50 1-49 1 2 1 51 1-9 1-25 1-6 1 9 1 7 1 6 1 19 1-45 1 21 1 2 1-34 1 61 1 13 1-40 1-42 1 23 1 43 1-72 1 2 1 36 1 24 1 9 1 5 1-82 1 44 1-9 1 0 1 43 1-8 1-28 1 24 1 0 1 26 1-44 1 29 1-32 1 28 1-11 1 8 1-6 1 37 1-53 1-5 1 10 1 24 1 7 1-18 1-14 1 6 1-6 1 28 1-11 1 6 1-4 1 1 1 25 1-38 1 21 1 1 1-27 1 55 1-33 1-31 1 49 1-9 1 3 1-21 1-3 1 12 1-35 1 35 1-2 1 19 1-25 1 19 1-47 1 16 1 35 1 16 1-13 1-55 1 11 1 10 1 43 1-42 1 19 1 5 1 1 1-14 1 11 1 12 1-16 1-4 1 19 1 17 1 22 1-83 1 33 1-4 1-27 1 19 1-9 1-7 1 9 1 28 1-38 1 12 1 9 1-20 1-5 1-8 1 19 1 49 1-71 1 59 1-41 1 0 1 40 1-5 1 2 1-15 1 20 1-34 1 23 1 14 1-23 1-19 1 59 1-44 1-17 1 37 1 15 1-16 1-40 1 29 1 6 1 8 1-48 1 4 1 34 1-4 1 10 1 17 1-58 1 5 1 13 1 48 1-39 1 27 1-77 1 60 1 16 1 11 1-48 1 63 1-65 1 52 1 6 1-41 1-29 1 82 1-42 1-36 1 39 1-36 1 28 1-29 1-27 1 68 1-32 1 13 1 5 1-6 1-13 1 25 1 6 1-9 1-13 1 9 1 34 1-7 1-33 1 20 1 0 1 0 1-13 1 11 1-19 1 24 1-4 1 4 1-1 1-2 1-31 1-10 1 31 1-13 1 27 1-33 1 5 1-21 1 28 1-6 1 35 1-25 1 31 1-50 1-19 1 62 1-14 1 25 1-52 1-24 1 76 1-29 1-20 1 63 1-48 1-20 1 28 1-21 1-7 1 29 1-9 1-5 1 2 1-29 1 48 1 27 1-37 1 22 1 17 1-51 1-11 1-7 1 12 1 29 1-22 1 31 1-43 1 53 1-45 1 5 1 4 1-7 1 2 1 16 1-16 1 13 1-29 1 0 1-14 1 49 1-37 1 30 1-8 1 0 1-8 1 18 1-2 1 27 1-43 1-3 1-20 1 78 1-66 1 35 1-2 1-45 1 13 1 31 1-17 1-30 1 33 1 31 1-27 1 5 1 17 1 20 1-49 1-16 1 13 1-10 1-21 1 28 1-19 1 51 1-32 1-58 1 37 1 32 1-23 1-6 1 6 1-7 1 33 1-25 1-11 1 40 1-47 1 32 1-28 1 13 1-2 1-15 1 12 1 47 1-60 1 72 1-27 1 17 1-49 1 37 1-21 1 43 1-58 1 39 1-44 1 47 1-42 1-18 1-6 1 18 1 49 1-68 1 13 1 14 1 3 1 4 1 32 1-43 1-30 1 50 1-28 1 4 1 7 1 33 1-10 1-29 1-11 1 17 1-31 1-26 1 23 1 36 1-42 1 0 1 43 1-4 1-3 1-58 1 26 1 15 1-12 1-38 1-1 1-17 1 1 1 17 1-4 1-32 1 33 1-13 1 24 1-44 1 18 1-57 1 72 1-3 1 9 1-16 1 3 1 1 1 34 1-48 1 25 1 20 1-19 1-10 1 18 1 17 1 33 1-47 1-35 1 76 1-22 1 16 1-15 1 3 1-43 1 60 1-38 1 41 1-59 1 73 1-31 1-50 1 57 1 0 1 1 1-28 1 78 1-63 1 35 1-81 1 73 1-2 1-11 1 30 1-43 1 26 1-12 1 9 1-28 1 38 1-1 1-5 1 1 1-16 1-4 1 10 1 14 1-36 1 27 1 39 1-19 1-38 1 51 1-67 1 35 1 31 1-10 1-6 1-32 1-13 1 50 1-5 1 33 1-52 1-12 1 13 1-29 1 34 1 7 1-3 1 46 1 2 1-51 1-5 1 42 1-5 1-54 1 11 1-2 1-12 1 16 1-17 1 46 1-8 1-52 1 24 1 0 1 45 1-49 1 35 1 16 1-60 1 32 1-11 1 18 1-54 1 22 1-31 1 55 1-64 1 47 1-39 1 18 1-2 1 20 1 11 1 14 1 5 1-32 1-28 1 54 1-58 1 28 1-18 1 1 1 18 1-33 1 23 1-1 1 25 1 0 1-10 1-19 1 37 1-20 1-54 1 34 1 2 1-33 1 23 1-15 1-16 1 21 1-18 1-15 1 28 1-45 1 70 1-35 1 10 1 21 1 0 1-28 1 16 1 17 1 12 1-49 1 28 1-31 1 7 1 21 1 0 1-19 1 7 1 21 1-29 1 39 1-30 1 64 1-28 1 15 1-24 1 36 1-13 1 7 1-14 1 14 1-17 1 18 1-21 1 1 1 12 1-1 1-3 1-17 1 13 1 29 1-19 1 5 1-19 1 45 1-38 1 19 1-14 1 29 1-65 1-11 1 40 1-51 1 41 1 2 1 11 1 21 1-47 1 45 1 17 1 9 1-64 1 18 1 54 1-69 1 51 1-18 1 5 1-53 1 6 1 13 1 35 1 5 1-38 1 26 1-4 1-26 1-3 1-21 1 19 1 7 1 48 1-10 1-25 1 11 1-28 1-36 1 60 1 7 1-33 1 46 1-4 1-7 1-64 1 44 1 13 1-36 1 7 1 32 1 28 1-31 1-14 1-19 1-14 1 5 1 28 1-21 1 42 1-64 1 3 1 26 1 5 1-4 1-29 1 6 1 39 1-33 1-5 1 24 1-8 1-13 1 37 1-76 1 37 1-28 1 33 1-51 1 33 1-30 1 64 1-60 1 42 1-73 1-3 1 19 1-51 1 16 1 56 1-9 1-29 1 33 1-12 1 4 1-30 1 50 1-32 1 53 1-55 1 87 1-70 1-13 1 9 1 39 1 0 1-20 1 36 1 30 1-41 1 16 1 4 1 1 1-60 1 77 1-36 1 5 1 26 1-91 1 82 1-12 1 33 1-30 1 23 1-6 1-53 1 27 1-16 1 16 1-19 1-15 1 33 1-4 1 19 1 28 1-47 1 3 1 34 1-5 1-60 1 37 1-35 1 15 1 8 1 9 1-4 1 12 1 3 1 30 1-18 1-44 1 58 1-25 1-34 1 4 1 25 1 1 1 6 1-44 1 28 1 57 1-89 1 9 1 32 1 6 1-20 1 17 1-6 1-17 1 19 1-7 1 16 1 8 1-37 1 18 1-22 1 16 1 11 1 14 1-35 1 33 1-17 1-4 1 1 1-9 1 22 1-37 1 40 1-24 1 47 1-46 1 19 1 9 1 2 1 18 1 2 1-41 1-8 1 44 1-23 1-12 1 3 1 20 1-2 1-68 1 31 1 6 1-12 1 50 1 3 1-32 1 36 1-40 1 40 1-14 1-13 1 8 1-24 1 38 1-35 1 22 1-32 1 1 1 21 1 0 1 26 1-34 1 12 1 1 1 38 1-44 1-30 1-8 1 24 1 10 1-30 1-1 1 4 1 21 1 14 1-32 1-3 1 48 1 11 1-29 1-27 1-1 1 30 1-58 1 3 1 58 1-56 1 15 1 65 1-60 1 42 1-38 1-20 1 35 1-13 1 21 1-54 1 46 1-7 1 13 1-13 1-30 1 54 1-11 1 0 1-7 1-7 1-22 1-29 1 5 1 32 1-49 1 36 1 34 1-42 1 66 1-84 1 55 1-62 1 53 1 30 1-46 1-22 1 3 1 41 1 5 1-11 1-21 1-14 1 5 1-5 1-13 1 62 1 5 1 0 1 10 1-56 1-28 1 48 1-12 1-20 1 36 1-20 1 25 1-6 1-29 1 19 1-12 1 20 1-10 1-21 1 32 1-15 1 1 1 7 1 49 1-43 1-14 1-10 1-24 1 38 1 1 1-14 1 31 1-8 1 6 1-21 1 41 1-22 1-28 1 15 1 23 1-38 1 44 1-39 1-33 1 59 1-28 1 13 1-5 1 28 1-25 1 21 1-41 1 22 1-15 1 13 1 51 1-69 1 27 1-17 1 18 1-29 1 6 1-27 1 69 1-28 1 5 1-36 1 65 1-9 1-34 1 15 1-13 1 28 1-72 1 55 1 2 1 14 1-44 1 7 1-7 1 46 1-11 1 15 1-6 1-3 1-42 1 23 1 35 1-22 1-30 1 3 1 9 1 5 1 9 1-3 1 11 1 14 1-10 1-38 1 71 1-52 1-10 1 41 1 7 1-21 1 19 1-34 1 1 1-22 1 49 1-19 1 34 1-45 1 34 1-24 1 37 1-38 1 32 1-56 1 14 1-2 1 36 1-72 1 21 1 32 1-6 1 0 1 11 1-15 1 20 1 15 1-51 1 50 1-47 1-12 1 28 1-1 1 8 1-32 1 23 1-11 1 38 1-23 1-16 1-10 1 24 1 45 1-84 1 24 1 43 1-5 1-28 1 2 1-7 1-10 1 13 1 19 1-4 1-43 1 29 1-11 1 43 1-60 1 4 1-5 1 112 1-42 1-46 1 27 1-63 1 34 1 58 1-58 1-28 1 16 1 0 1 9 1-1 1-8 1-24 1 33 1-1 1-36 1 49 1-17 1 43 1-29 1-26 1-6 1 62 1-14 1-15 1 8 1-52 1 59 1-30 1 3 1 25 1-11 1-48 1 51 1-19 1 31 1-22 1 10 1-36 1 3 1-6 1 34 1-29 1 15 1 58 1-27 1 36 1-72 1-3 1 11 1 25 1-33 1 66 1-67 1 53 1-56 1 4 1 28 1-9 1-7 1-3 1 17 1-20 1 57 1-25 1-7 1-35 1 90 1-60 1-23 1-6 1-38 1 44 1-33 1 13 1 65 1-40 1-11 1 59 1-55 1 64 1-55 1 16 1-17 1-4 1 18 1 27 1-29 1-26 1-17 1 69 1-45 1-8 1 37 1 0 1 3 1-28 1-30 1 58 1-14 1 0 1-20 1 34 1-11 1 5 1 23 1-35 1-2 1 0"/>
<path transform="translate(52.000,0) scale(0.125,0.1)" vector-effect="non-scaling-stroke" fill="none" stroke="#000" stroke-width="1.8" stroke-linejoin="round" d="M0 4690l1-273 1 227 1-49 1 71 1-51 1 82 1-99 1-30 1 63 1-7 1-43 1 7 1 55 1 1 1-66 1 8 1-79 1 196 1-105 1 88 1-50 1 87 1-22 1-67 1 67 1-135 1 125 1-152 1 103 1 42 1-46 1-32 1-23 1 27 1 79 1-7 1-63 1-54 1 109 1-117 1 52 1-10 1 84 1-27 1 14 1-9 1-52 1 69 1 50 1-79 1 39 1-41 1 65 1-18 1 13 1-28 1 73 1-110 1 3 1-13 1 69 1-68 1 1 1 77 1 26 1-31 1-179 1 97 1-5 1-6 1 46 1 125 1-116 1-23 1 81 1-33 1 5 1-44 1 40 1 26 1-129 1 19 1 150 1-11 1-73 1-27 1 48 1-54 1 48 1 112 1-82 1 59 1-75 1 34 1 58 1-149 1 56 1 13 1 25 1 72 1-46 1-119 1 70 1-33 1 0 1 164 1-168 1 73 1-51 1 89 1-26 1-11 1-10 1 69 1-113 1 13 1-19 1 136 1-88 1-39 1 36 1 162 1-142 1 55 1-20 1-24 1-36 1 21 1 1 1-101 1 266 1-90 1-43 1-16 1-30 1 97 1-61 1 38 1-101 1 99 1 91 1-124 1 61 1-40 1 60 1 0 1-54 1-32 1 48 1-12 1-34 1 60 1 1 1-71 1 44 1 168 1-113 1-38 1 134 1-161 1-109 1 33 1 23 1 99 1 41 1-170 1 181 1-126 1 83 1 13 1 0 1-22 1 11 1-70 1 79 1 40 1-1 1 94 1-82 1-18 1 53 1-76 1-82 1-51 1 194 1-37 1 17 1-63 1 39 1 85 1-83 1-77 1 38 1 101 1-133 1-80 1 17 1 54 1 118 1-38 1-44 1-27 1 65 1-1 1-21 1 19 1-27 1 141 1-225 1 136 1-60 1 95 1-50 1 34 1 10 1-16 1 44 1-129 1 129 1-62 1 34 1 65 1-23 1 48 1-228 1 71 1 106 1-113 1 53 1 104 1-44 1-99 1 78 1 12 1-30 1-8 1 14 1-87 1 89 1-58 1 75 1 3 1-71 1 83 1-13 1-20 1 43 1-56 1 3 1 21 1-6 1 66 1-189 1 112 1-91 1 82 1 42 1-13 1 53 1-34 1-164 1 88 1 145 1 2 1-78 1-89 1 202 1-229 1 130 1-18 1 16 1-75 1 42 1 81 1-84 1-47 1 75 1 6 1-11 1-35 1 73 1-35 1-56 1 76 1-12 1 10 1-98 1 51 1 67 1 26 1-30 1-9 1 32 1 15 1 43 1-69 1-55 1 58 1-130 1 109 1-26 1 24 1 29 1-23 1-80 1 60 1-23 1 43 1 21 1-70 1 92 1 31 1-83 1 54 1-118 1 52 1 81 1-145 1 68 1-20 1 110 1 0 1-94 1 41 1-145 1 185 1-26 1 53 1-197 1 146 1-36 1-120 1 103 1 33 1 48 1-31 1-38 1 52 1-29 1-28 1-19 1 63 1 1 1 91 1-122 1 111 1-66 1 44 1-110 1 2 1 31 1 65 1-38 1 32 1-23 1 39 1-44 1-37 1 56 1-22 1 89 1-101 1 15 1-22 1 79 1-14 1-12 1-100 1-13 1 95 1 25 1 41 1-173 1 87 1-80 1 39 1 40 1 63 1-78 1-9 1 21 1 85 1 62 1-209 1 68 1-8 1 85 1-38 1 59 1-134 1 55 1-24 1-34 1 51 1-54 1 178 1-92 1-75 1 22 1 124 1-116 1 63 1-6 1 28 1-24 1-43 1-20 1-62 1 92 1 10 1-25 1 12 1-56 1 178 1-139 1-28 1 24 1 23 1 48 1-165 1 154 1-58 1 23 1 63 1-12 1-75 1 31 1 103 1-26 1-25 1-45 1 50 1-29 1-48 1-23 1 79 1-6 1 43 1-88 1 99 1-91 1 84 1-36 1-58 1-19 1 43 1-7 1 63 1-84 1-40 1 76 1 101 1-14 1-117 1 18 1 31 1-50 1 22 1-1 1-40 1 23 1 7 1 38 1-73 1 67 1-56 1 10 1-16 1 265 1-142 1 5 1-27 1-54 1 16 1 12 1 9 1 7 1 49 1-230 1 123 1 64 1-53 1 11 1 85 1-66 1 81 1-93 1 15 1-67 1-46 1 80 1 25 1-20 1-51 1 103 1-30 1-3 1-40 1 124 1-8 1-59 1-22 1 19 1 74 1 57 1-142 1-22 1-70 1 235 1-198 1 100 1-18 1 42 1-111 1-38 1 90 1 14 1 37 1-143 1 63 1 9 1-54 1 60 1 49 1-42 1-71 1 91 1 26 1-16 1 13 1-123 1 107 1 7 1-49 1 16 1-35 1 101 1-77 1-32 1 57 1-4 1 28 1-75 1 8 1 54 1 93 1-89 1-91 1 77 1-48 1-53 1 59 1 5 1 50 1 46 1-9 1-16 1-62 1 29 1-9 1 72 1-102 1 5 1 102 1-45 1-51 1 31 1-1 1 2 1 31 1-21 1-27 1-16 1-61 1 65 1 79 1-45 1-44 1 21 1-30 1 57 1 85 1-9 1-30 1-20 1-50 1-50 1 63 1-23 1 64 1-33 1-36 1 51 1 123 1-189 1 101 1-26 1-34 1-32 1 39 1 10 1 28 1-3 1-18 1-49 1 49 1-37 1-28 1 95 1-76 1-25 1 63 1-98 1 92 1 25 1-42 1 33 1 94 1-35 1-23 1-16 1-54 1 19 1-7 1 16 1 5 1-45 1 119 1-129 1 69 1 34 1-52 1-30 1 34 1 94 1-64 1-43 1 43 1-38 1-81 1 104 1 39 1 6 1-58 1-65 1 127 1-65 1 44 1 20 1-38 1-19 1-26 1 10 1 23 1-24 1 41 1-111 1 46 1 48 1-32 1 8 1-28 1 88 1 46 1-126 1 104 1-124 1 77 1-102 1 120 1-22 1 7 1 52 1-29 1-30 1-37 1 42 1-35 1 14 1 92 1-28 1-28 1 17 1-98 1 74 1-85 1 50 1 50 1 1 1 16 1-25 1-5 1-2 1 68 1-4 1-131 1 76 1 56 1-73 1 24 1-39 1-28 1 64 1-25 1 12 1-60 1 14 1 49 1-14 1 47 1-75 1 84 1-6 1-22 1 27 1-34 1-5 1 9 1-58 1 58 1 40 1-112 1 108 1-61 1 14 1 21 1 8 1 54 1-71 1 88 1-77 1 21 1 10 1-62 1-20 1 59 1 28 1 9 1-57 1 100 1-86 1-25 1 87 1 4 1-100 1 84 1-96 1 62 1 105 1-44 1-26 1-2 1-67 1 55 1 6 1-68 1 59 1 17 1-15 1 11 1-30 1-40 1 54 1-89 1 56 1 85 1 33 1-63 1-129 1 173 1-35 1-33 1 44 1-9 1-79 1-4 1 108 1-152 1 134 1-12 1 31 1 36 1-18 1 11 1-33 1-13 1 27 1-49 1-41 1 39 1-68 1 48 1 121 1-70 1-31 1-19 1-52 1 57 1-10 1 36 1 4 1-6 1-83 1 154 1-45 1-19 1-15 1 36 1 37 1-28 1-79 1-4 1-49 1 113 1 27 1 24 1-49 1 32 1-78 1 66 1-28 1-24 1-45 1 129 1-153 1 130 1-63 1 64 1-51 1 59 1-42 1-37 1 25 1-48 1 85 1 35 1-27 1-13 1 54 1-109 1 78 1-24 1-20 1 46 1-74 1 46 1 22 1-66 1 42 1 35 1 20 1-84 1 83 1-52 1 18 1-28 1 60 1-65 1 45 1 5 1 18 1-79 1 82 1-32 1 63 1-78 1-9 1 24 1-11 1 8 1-48 1-35 1 28 1 40 1 46 1-32 1-28 1 37 1 10 1 120 1-64 1-47 1-71 1 57 1-5 1 39 1 69 1-94 1-82 1 82 1-68 1 111 1 13 1-33 1-78 1 58 1 62 1-95 1 18 1 38 1 12 1-17 1 12 1-4 1-33 1 22 1 17 1-58 1 56 1-3 1 17 1-4 1-59 1-8 1 66 1-16 1 12 1-27 1-30 1 68 1-16 1 33 1 21 1 2 1-4 1-82 1-48 1 65 1-25 1-3 1 86 1-96 1 109 1 9 1 68 1-68 1 46 1-116 1 0 1 72 1-97 1 106 1-59 1-71 1 163 1-125 1 155 1-167 1 28 1 46 1-7 1-67 1 73 1 4 1 13 1-86 1 44 1 22 1 40 1-26 1-21 1-2 1 81 1-95 1 48 1-102 1 164 1-51 1-92 1 101 1 34 1-23 1-30 1 34 1-65 1 21 1-3 1 20 1-46 1 103 1-62 1-38 1 37 1 26 1-12 1 45 1-59 1-16 1 54 1 34 1-92 1-25 1 41 1 25 1-38 1 50 1-41 1 74 1-85 1 13 1 42 1 26 1 12 1-65 1 30 1 23 1 38 1-94 1-14 1 73 1-29 1 67 1-53 1 14 1-45 1 45 1 40 1-59 1-37 1 86 1-47 1 16 1-30 1 69 1-68 1 12 1 21 1-7 1-82 1 112 1-65 1 59 1-25 1 12 1-24 1-12 1 50 1 4 1 34 1-18 1-49 1 77 1 43 1-59 1-36 1-30 1 44 1-60 1 91 1-46 1-7 1 35 1-59 1-19 1 54 1 67 1-81 1 70 1-107 1 72 1 24 1 52 1-140 1 69 1-32 1 50 1-33 1 27 1-33 1 10 1 39 1 44 1-49 1-2 1-22 1 82 1-138 1 0 1 49 1 49 1 22 1-14 1 9 1-22 1-24 1-22 1 61 1-53 1 55 1 14 1-52 1 8 1-3 1 50 1-19 1-31 1 38 1 50 1-47 1-4 1-19 1-19 1 37 1 4 1-13 1 60 1-54 1 5 1 15 1 15 1-88 1 81 1 40 1-90 1 60 1-33 1-17 1 50 1-12 1-75 1 60 1 56 1-53 1-4 1 16 1-1 1 48 1-60 1-11 1 64 1 23 1-10 1 7 1-56 1-30 1 32 1 27 1-63 1 55 1 36 1-48 1 104 1-46 1-74 1 4 1 18 1 55 1-8 1-38 1 29 1 26 1-9 1-81 1 21 1 8 1-30 1 100 1-56 1 0 1-6 1 44 1 11 1 4 1 22 1-83 1 97 1 33 1-116 1 6 1 36 1 23 1-59 1-21 1 109 1-100 1-87 1 123 1 16 1 26 1 1 1 48 1-141 1-18 1-20 1 119 1-84 1-50 1-16 1 81 1-23 1 26 1-47 1 3 1 44 1-28 1 28 1-29 1-8 1 23 1-29 1 17 1 9 1-39 1 13 1 6 1 20 1-19 1-2 1 7 1-32 1 23 1-44 1-44 1 82 1-93 1 66 1 61 1-34 1-69 1 63 1-22 1-45 1 24 1-21 1 4 1 20 1-77 1 86 1 38 1-88 1-38 1 14 1 55 1-74 1 28 1 59 1-125 1 20 1-37 1-6 1 5 1-49 1 29 1-28 1 17 1-39 1-35 1 18 1-92 1 2 1-79 1 44 1-118 1 25 1-106 1-10 1-96 1-40 1-62 1-5 1-57 1-54 1-79 1-89 1-35 1-34 1-140 1-79 1-11 1 0 1-129 1-49 1-55 1-8 1-14 1 5 1 95 1 39 1-3 1 51 1 85 1 34 1 72 1 90 1 49 1 123 1 146 1-50 1 79 1 25 1 78 1 81 1 70 1 31 1 14 1 108 1 10 1 78 1 16 1 41 1 37 1-45 1 157 1-52 1 74 1 32 1-19 1-8 1 92 1-38 1 50 1 37 1-20 1-32 1 53 1 57 1-37 1 75 1-80 1 32 1-20 1 39 1 101 1-27 1-24 1-6 1 74 1-41 1-26 1 101 1-101 1 62 1 22 1 18 1 42 1-37 1-53 1 73 1-27 1-53 1 9 1 13 1-47 1 100 1 9 1 0 1-46 1 31 1 49 1-27 1-17 1-20 1 28 1 52 1-45 1 87 1 7 1-62 1-85 1 53 1 59 1-67 1-3 1 28 1 101 1-116 1-53 1 84 1 6 1 14 1-23 1 11 1-29 1 55 1-35 1 21 1-45 1 80 1-41 1-24 1 19 1-41 1 20 1 54 1-7 1 10 1-3 1-36 1 16 1 68 1-74 1-51 1 57 1-13 1 12 1 6 1-38 1 56 1-21 1 29 1-46 1-10 1 22 1 78 1-127 1 109 1-41 1 45 1-56 1 30 1 1 1 66 1-82 1 15 1-36 1 40 1-37 1 24 1 20 1 7 1-53 1 2 1 77 1-62 1 28 1-16 1-47 1 55 1 1 1 70 1-134 1 52 1 43 1-41 1-59 1 103 1-16 1-36 1-5 1 13 1 33 1-13 1-16 1 37 1 27 1-60 1 81 1-56 1 22 1-5 1 3 1-9 1-90 1 49 1 68 1-70 1 43 1-60 1 35 1 80 1-47 1-40 1 10 1-38 1 79 1-25 1 37 1 3 1-39 1-24 1-8 1 30 1 16 1 51 1-85 1 52 1-54 1 18 1 50 1-8 1-38 1-3 1 65 1-46 1-4 1-27 1 131 1-23 1-47 1 63 1-62 1-29 1 33 1 33 1-92 1 87 1 0 1 12 1-36 1 24 1-103 1 62 1 41 1-17 1-9 1-54 1 40 1-56 1 55 1 22 1-31 1 38 1-17 1 33 1-44 1-45 1 13 1 19 1 29 1 4 1-29 1 32 1-28 1 49 1-72 1 92 1-31 1-24 1-24 1 61 1-41 1 46 1 44 1-59 1 3 1 12 1-38 1 91 1-77 1 34 1-12 1-32 1 72 1-35 1-37 1 2 1-46 1 32 1 70 1 2 1-64 1 57 1 14 1-6 1 18 1-114 1 77 1-41 1 60 1-51 1 32 1 28 1-88 1 34 1-1 1 25 1-56 1 86 1 42 1-79 1 29 1-114 1 53 1 68 1-13 1 14 1 25 1-44 1-12 1-7 1 21 1-80 1 131 1-132 1 22 1 60 1 33 1-14 1 35 1-69 1-7 1 44 1-60 1 49 1 11 1-7 1-84 1 66 1-65 1 106 1-46 1 53 1 12 1-96 1 83 1-18 1 41 1-100 1 1 1 18 1-37 1 72 1-30 1 34 1 6 1 18 1-77 1 75 1 1 1-62 1 14 1-29 1 97 1 5 1-78 1 27 1 19 1 12 1-27 1 63 1-93 1 66 1-27 1 8 1-37 1-35 1 45 1 36 1-46 1-30 1 56 1 6 1-35 1 33 1 20 1-7 1 26 1 11 1-43 1-27 1-33 1 99 1-23 1 25 1-65 1 35 1-33 1-2 1-20 1 45 1 26 1 12 1-19 1-17 1 83 1-16 1-18 1-31 1 41 1-72 1-17 1 69 1-16 1 33 1-65 1 39 1-47 1 26 1 30 1-18 1-31 1-17 1 39 1-18 1-18 1 56 1-35 1 79 1 30 1-34 1 61 1-143 1-16 1 57 1-57 1 69 1 27 1-2 1 8 1-42 1 6 1 12 1-10 1 36 1-47 1 14 1-22 1 60 1-29 1 1 1-21 1-45 1 48 1-61 1 76 1-41 1 91 1-68 1 22 1-15 1-22 1-13 1-35 1 68 1-49 1 114 1-86 1 26 1 21 1-4 1 48 1-43 1-14 1 14 1 60 1-27 1-96 1 63 1-25 1 34 1 23 1-21 1 21 1 40 1-122 1 62 1 4 1 15 1-12 1 30 1-33 1 17 1-70 1 63 1-50 1 65 1 42 1-64 1 19 1 11 1 24 1-21 1 17 1-62 1 17 1-49 1 131 1-120 1 76 1-27 1 0 1-46 1 41 1 5 1 12 1-26 1 21 1-42 1 78 1-65 1 151 1-138 1-11 1 30 1-11 1 44 1 6 1-65 1-1 1-2 1 44 1 18 1-10 1-28 1 7 1 23 1 21 1-45 1 44 1-53 1 19 1 34 1-70 1-30 1 22 1 35 1-31 1 32 1 54 1-61 1 60 1-15 1-68 1 72 1-3 1 5 1-27 1 3 1-29 1-10 1 29 1 28 1-46 1 80 1-73 1 28 1-58 1 103 1-28 1 20 1-87 1 94 1-33 1-38 1 8 1-38 1 47 1 39 1-61 1 44 1-55 1-51 1 88 1 59 1-9 1-66 1 69 1-7 1-23 1-26 1 48 1-37 1-11 1 52 1-61 1 49 1 29 1-76 1 30 1 14 1-81 1 45 1-1 1 1 1-12 1 77 1-77 1 29 1 25 1 35 1-111 1 11 1 9 1 27 1 44 1-37 1 11 1 49 1-64 1 18 1 64 1-42 1-48 1-1 1 63 1-79 1 10 1 60 1 19 1 13 1-93 1 53 1-134 1 88 1 134 1-48 1-29 1-57 1-11 1 84 1-44 1-23 1 55 1-1 1-48 1 10 1 94 1-112 1 71 1-60 1-5 1-6 1 33 1 4 1 28 1-52 1 41 1-33 1-6 1 49 1-6 1-69 1 60 1-69 1 27 1 95 1-11 1-52 1 28 1 24 1 17 1 0 1-87 1 26 1 6 1-88 1 59 1 40 1-21 1-13 1-19 1 21 1 20 1-10 1 52 1-11 1-73 1 78 1-31 1 27 1-50 1 55 1-56 1 62 1-37 1-7 1-37 1-9 1 87 1-69 1-1 1 55 1-13 1 20 1-65 1-28 1 43 1 67 1-36 1 17 1 4 1-12 1 0 1-12 1 15 1 4 1-34 1 44 1-20 1-2 1-3 1 37 1-35 1 46 1-76 1 56 1-74 1 56 1-19 1 2 1-20 1 36 1 20 1-82 1 59 1 12 1 15 1-9 1-49 1 72 1-64 1 47 1-10 1-27 1-11 1 25 1 57 1-27 1-42 1 46 1 32 1 18 1-134 1 85 1 4 1-57 1-36 1 109 1-60 1-40 1 20 1 62 1 51 1-43 1-62 1 74 1-109 1 100 1-2 1 30 1-28 1 6 1-35 1-15 1 13 1 66 1-86 1 18 1-14 1 40 1-7 1 54 1 6 1-36 1-8 1-35 1-47 1 58 1-5 1-40 1 47 1 27 1-65 1 62 1-16 1-33 1 23 1 23 1-33 1 5 1 48 1-26 1-1 1-35 1 42 1 28 1-85 1-24 1 30 1 23 1-30 1-24 1 116 1-71 1-13 1-72 1 132 1-85 1 99 1-25 1-12 1-15 1 41 1-53 1 33 1-30 1 7 1 66 1-16 1-71 1 3 1 32 1-6 1 22 1-30 1-23 1 65 1-36 1 32 1-55 1 84 1-43 1 0 1 4 1-67 1 79 1-42 1-21 1 53 1 47 1-85 1 79 1-131 1 88 1-31 1 30 1 66 1-51 1-75 1 103 1-87 1 17 1-12 1 37 1-9 1 62 1-45 1 13 1-30 1 45 1-75 1-14 1 82 1-5 1-24 1 77 1-109 1 81 1 4 1-96 1 63 1 8 1-32 1 1 1 3 1-28 1-18 1 76 1-19 1-7 1 18 1-46 1 6 1 50 1-27 1 17 1 21 1 23 1-92 1 12 1-29 1 26 1 42 1-36 1 94 1-90 1-47 1 32 1 103 1-103 1 29 1-26 1-9 1 79 1-81 1-21 1 37 1 3 1 38 1-11 1 40 1-50 1 23 1 2 1 18 1-77 1 31 1-82 1 67 1-14 1 12 1 84 1-18 1-87 1 114 1-17 1-38 1-9 1-1 1 4 1 24 1-32 1 44 1-45 1-12 1 19 1 16 1 4 1-15 1-51 1 6 1-13 1 50 1 33 1-22 1-2 1-15 1 5 1-10 1 59 1-78 1 12 1 47 1-28 1 35 1-38 1 31 1-7 1-51 1 63 1 24 1-65 1 18 1 27 1 31 1-40 1 68 1-93 1 80 1-91 1 25 1-30 1 65 1-12 1-80 1-30 1 162 1-83 1-46 1 26 1 15 1 70 1-39 1-13 1-33 1 55 1-82 1 97 1-4 1-49 1-35 1 30 1 17 1 72 1-10 1-79 1-4 1-20 1 59 1-31 1 42 1-21 1-20 1-16 1-20 1 74 1-64 1 68 1-79 1-30 1 87 1-21 1 51 1-31 1-2 1 32 1-51 1 44 1 61 1-75 1-38 1 30 1-26 1 16 1 67 1-88 1-9 1 59 1-31 1 8 1-15 1 30 1 41 1-28 1-35 1 2 1-18 1 1 1 61 1-14 1-2 1 1 1-37 1 21 1 18 1 36 1-45 1-6 1-28 1 60 1-42 1 17 1 5 1-39 1 35 1 28 1-66 1 12 1-10 1 31 1 66 1-59 1 31 1-33 1-22 1 15 1 7 1-14 1 4 1 5 1-23 1 71 1-36 1-18 1-15 1 31 1-37 1-16 1 29 1 53 1-47 1 12 1-37 1 49 1-35 1-1 1-6 1 21 1-30 1 21 1 7 1-25 1-32 1 78 1-55 1-23 1 64 1-2 1 38 1 6 1-114 1 54 1 27 1-52 1 81 1-26 1-33 1 5 1 28 1 58 1-6 1-109 1 67 1-68 1 44 1-28 1 23 1-4 1 26 1-36 1 47 1-26 1-26 1 77 1-36 1-17 1 10 1 20 1-27 1-15 1 15 1-13 1 1 1 70 1-27 1 18 1-59 1-41 1 45 1 30 1-33 1 22 1-36 1 47 1-30 1 15 1 21 1-45 1-10 1 8 1 45 1-29 1 46 1-17 1 19 1-30 1 33 1-15 1-85 1 108 1-17 1-41 1-25 1-21 1 65 1-32 1-10 1 6 1-20 1 83 1-58 1 27 1 6 1 7 1-16 1 32 1-46 1 88 1-119 1 73 1 49 1-101 1 76 1 21 1-80 1 64 1-68 1 29 1-17 1-24 1-4 1 17 1-29 1 54 1-1 1 31 1-22 1-18 1-5 1 89 1-128 1 7 1 115 1-38 1-28 1 11 1 15 1-79 1 37 1 34 1-2 1 14 1-27 1-19 1-8 1 39 1-20 1 16 1 29 1-6 1-81 1 76 1-70 1-24 1 117 1-61 1-32 1 3 1 38 1 32 1-26 1-54 1-33 1 29 1 32 1-21 1-62 1 42 1 12 1-52 1 54 1 16 1-20 1-59 1 17 1 5 1-10 1 37 1-26 1-4 1 9 1-26 1-29 1 45 1-16 1 31 1-15 1-17 1 42 1-36 1-41 1 89 1-13 1-38 1-50 1 17 1 62 1-34 1-9 1 25 1-33 1 3 1 53 1-21 1 7 1-5 1 15 1-7 1-51 1 19 1 58 1-46 1 49 1-64 1-34 1 47 1-19 1-5 1-2 1-40 1 80 1-21 1-24 1-21 1 71 1-20 1 21 1-9 1 12 1-25 1-44 1 51 1 23 1-72 1 31 1 58 1-82 1 80 1-71 1-21 1 34 1-3 1 49 1-94 1 35 1 1 1-5 1 36 1-20 1 17 1-8 1 42 1-53 1 21 1 25 1-10 1-15 1 26 1-12 1 1 1-11 1 29 1 3 1-51 1 36 1-3 1 8 1-43 1-14 1 31 1 40 1-64 1 61 1-29 1 5 1 0 1-16 1 4 1 26 1 28 1-41 1 7 1-38 1 21 1 37 1 1 1-42 1 7 1-12 1-13 1 42 1-29 1 59 1-113 1 11 1 16 1 39 1-7 1-19 1-73 1 103 1-55 1 92 1-39 1-26 1 14 1 57 1-60 1-24 1-44 1 74 1-19 1 59 1-31 1 29 1-46 1-13 1 55 1-34 1-17 1 19 1 34 1-51 1 79 1-43 1-52 1 3 1 31 1-8 1-1 1 7 1 12 1-16 1-8 1-41 1 107 1-46 1 13 1-11 1 33 1-38 1 37 1-55 1 10 1 23 1 2 1 18 1-53 1 31 1-30 1-27 1 73 1-32 1-28 1 7 1 39 1-16 1-3 1 23 1-21 1-53 1 79 1-40 1 4 1-62 1-25 1 99 1-15 1 14 1 9 1 19 1 13 1-3 1-66 1 7 1 27 1 40 1-8 1-49 1-19 1 45 1-14 1 27 1 4 1-13 1-36 1-9 1 29 1 23 1-15 1 23 1-32 1 45 1-21 1-19 1-12 1 19 1 7 1 45 1-43 1 18 1-81 1 92 1-31 1-25 1-39 1 43 1 74 1-23 1-1 1-37 1 33 1 1 1-7 1-37 1 10 1 10 1 99 1-148 1 109 1-7 1-34 1 19 1-13 1 6 1-33 1-40 1 139 1-27 1-93 1 76 1-45 1 27 1-44 1 0 1 88 1-68 1 12 1 24 1 24 1-57 1 33 1 5 1-39 1 1 1 36 1-20 1 51 1-100 1 70 1-19 1-36 1 39 1-38 1 33 1 43 1-52 1 39 1-8 1-23 1 7 1 16 1 4 1-24 1 11 1 29 1-52 1-5 1 45 1 6 1-81 1 71 1 39 1-16 1-34 1 22 1-58 1 67 1-9 1 17 1-29 1 25 1-32 1 45 1-17 1-66 1 5 1 65 1 13 1 10 1-52 1 22 1-15 1-9 1 12 1 44 1-48 1 66 1-90 1 29 1 26 1 0 1-11 1-52 1 42 1 50 1-22 1-3 1-3 1-14 1 2 1-15 1 57 1-27 1-1 1-6 1-11 1-35 1 42 1-18 1 4 1 22 1 33 1-67 1 30 1 47 1-82 1 52 1-28 1 35 1 25 1-47 1 31 1-19 1 47 1-155 1 74 1 23 1 7 1 46 1-15 1-43 1-31 1 77 1-26 1-15 1 33 1 28 1-42 1 32 1-93 1 78 1 43 1-32 1-52 1-15 1 44 1-35 1 10 1-35 1 22 1 45 1-38 1-2 1-14 1 35 1 15 1-7 1-85 1 82 1-27 1 25 1-28 1 65 1 22 1-28 1 25 1-43 1-15 1-50 1 40 1 7 1 58 1-72 1 30 1 17 1-17 1-1 1 31 1-55 1 26 1 7 1 40 1-7 1-22 1 8 1-84 1 69 1-23 1-29 1 63 1-30 1-8 1-30 1 55 1 31 1-30 1 17 1 7 1-28 1-10 1-7 1 10 1-7 1 18 1-16 1 46 1-56 1 71 1-58 1 0 1 33 1-40 1-32 1 77 1 18 1-96 1 70 1-30 1 10 1 51 1-83 1 24 1 51 1-28 1 6 1-31 1-4 1 1 1 29 1-19 1 25 1 63 1-125 1 58 1-10 1-27 1 36 1-31 1-13 1 39 1 45 1-50 1 18 1-31 1-2 1-20 1 41 1 14 1-62 1-5 1 69 1-34 1-25 1 63 1-24 1-6 1 12 1-18 1 98 1-140 1 47 1 30 1-4 1-45 1 25 1 7 1 41 1 8 1 1 1-41 1 34 1-22 1-22 1-2 1 29 1-10 1-24 1-11 1 0 1 66 1-46 1 11 1 38 1 2 1-18 1-12 1-25 1 15 1 5 1 13 1-36 1 40 1 6 1-19 1-48 1-13 1 71 1-67 1 54 1 74 1-83 1-34 1 63 1-37 1 10 1-45 1 30 1 56 1-45 1-12 1 18 1 7 1 21 1-8 1 8 1-61 1 26 1-44 1 96 1-59 1 7 1 60 1-25 1-33 1 2 1-4 1 35 1 60 1-121 1 79 1-6 1-47 1 22 1-1 1-27 1 4 1 57 1-27 1-23 1-13 1 22 1 4 1 22 1 20 1-41 1-25 1 35 1-6 1-19 1 35 1-22 1 12 1-9 1 13 1 4 1-43 1 52 1-24 1-46 1 37 1 43 1 6 1-56 1 25 1-43 1 48 1-73 1 15 1 58 1 2 1-31 1 31 1 30 1-47 1 21 1-38 1-14 1 85 1-45 1-21 1-29 1 64 1 7 1 14 1-43 1 31 1-24 1-25 1 23 1-14 1-9 1 8 1 41 1-22 1-22 1 16 1 1 1 1 1 8 1-25 1 59 1-69 1 15 1-21 1 27 1-4 1 21 1-46 1 46 1-51 1 80 1-49 1 48 1 9 1-72 1 86 1-54 1-61 1 67 1-1 1 42 1-99 1-32 1 81 1-11 1-13 1 26 1 49 1-50 1 27 1-45 1-16 1 24 1 63 1-13 1-15 1-31 1 19 1 7 1-58 1 34 1 61 1-90 1 44 1-20 1 4 1 36 1-48 1 43 1-22 1 31 1-53 1 56 1-33 1-14 1-5 1-35 1 82 1-48 1 54 1 31 1-108 1 52 1-27 1 22 1 10 1-47 1 63 1-33 1 50 1-44 1 5 1-5 1 77 1-90 1-51 1 90 1-23 1 21 1 9 1 9 1-34 1 6 1 18 1 8 1-76 1 90 1-82 1 36 1 26 1-45 1 0 1 55 1-1 1-78 1 37 1 12 1 29 1-28 1 14 1-13 1 10 1 50 1-53 1-5 1-53 1 12 1-9 1 36 1-7 1-12 1 39 1-60 1 47 1-10 1-17 1-2 1 10 1 35 1 4 1-66 1 43 1-20 1 44 1 8 1-9 1-9 1 4 1-66 1 60 1-4 1-13 1-15 1-12 1 10 1 6 1-54 1 68 1 8 1 37 1 1 1-30 1-11 1-1 1 23 1 5 1-70 1 63 1-34 1 13 1-9 1 19 1-37 1 28 1-40 1 67 1-5 1-32 1 7 1-14 1 36 1-4 1-26 1 6 1 12 1-27 1 28 1 6 1 51 1-55 1-27 1 52 1-25 1-20 1 34 1-37 1 53 1-18 1-28 1 8 1 55 1-62 1-3 1 29 1-14 1-9 1 22 1-70 1 55 1 35 1-2 1-55 1 20 1 20 1-28 1 21 1-1 1-60 1 66 1-18 1-5 1-5 1-49 1 54 1 28 1 9 1-31 1-9 1-6 1 44 1 21 1-55 1-68 1 73 1 34 1-76 1 14 1-20 1 45 1 55 1-34 1-69 1 7 1 48 1-22 1-38 1 53 1-32 1 34 1 3 1-7 1-37 1 6 1 17 1-12 1 43 1 2 1-25 1 18 1 15 1-64 1 14 1 60 1-55 1-9 1 15 1 11 1-52 1 39 1 24 1-36 1-2 1 37 1-46 1-12 1 28 1 22 1-26 1-62 1 49 1 29 1 34 1-47 1 67 1-91 1 12 1 16 1 18 1-29 1 25 1-25 1 19 1 2 1-11 1 1 1-13 1-12 1 94 1-101 1 59 1-10 1-27 1-3 1-20 1 24 1-36 1 28 1 50 1-23 1-67 1 37 1-15 1-27 1 63 1-77 1 57 1 34 1-8 1-74 1 25 1 1 1 2 1 25 1-7 1 29 1-61 1 28 1 22 1-17 1-59 1 52 1 5 1-2 1-23 1 45 1-14 1-20 1 36 1-12 1-8 1-1 1-7 1 31 1-13 1 44 1-27 1 24 1-37 1 11 1 16 1 19 1 7 1-17 1 4 1 11 1 7 1 8 1-67 1 66 1-22 1 6 1-21 1 40 1 13 1 0 1-44 1-23 1 73 1-43 1-32 1 68 1-77 1 80 1-38 1 61 1-46 1-17 1 19 1-24 1 7 1 26 1-10 1-31 1 20 1 57 1-79 1 48 1 50 1-84 1 40 1-18 1-25 1 45 1-3 1-18 1-18 1 44 1-10 1-22 1-15 1 16 1-5 1-3 1 47 1-34 1 39 1-6 1-5 1-12 1-14 1 0 1 52 1-22 1-37 1 27 1-31 1 13 1-24 1 1 1-3 1 36 1 20 1-29 1 10 1-16 1-6 1 20 1-37 1 57 1-7 1-11 1-9 1-13 1 54 1-46 1-9 1-10 1 7 1 13 1-4 1 26 1-28 1-9 1 34 1-32 1 64 1-78 1 29 1-16 1 28 1 26 1-45 1-28 1 47 1-6 1 15 1-37 1 5 1-3 1 5 1 12 1 36 1-23 1-20 1-27 1 72 1-19 1 19 1-105 1 129 1-84 1-3 1 10 1 4 1 48 1-91 1 72 1 18 1-4 1-12 1 8 1-34 1-8 1 1 1-28 1 69 1-25 1 10 1 28 1-2 1-21 1-34 1-24 1 66 1-64 1 35 1 4 1-15 1 21 1 20 1 14 1-48 1-22 1 28 1-21 1 2 1 31 1 21 1-24 1 3 1 22 1-12 1-45 1 14 1 5 1 46 1-69 1 28 1-64 1 55 1-9 1-2 1 40 1-37 1 55 1-30 1-10 1-20 1 69 1-39 1 41 1 17 1-60 1 19 1 15 1-33 1-41 1 66 1-38 1-16 1 14 1 50 1-60 1 11 1-13 1 57 1-12 1 23 1-16 1-10 1 24 1-10 1-20 1 12 1 31 1-32 1-59 1-11 1 29 1 51 1-15 1 7 1-21 1-2 1-9 1 8 1 2 1-2 1-25 1-7 1 67 1-28 1 6 1-25 1 15 1 12 1-21 1-13 1 35 1 1 1-46 1 7 1 55 1-53 1-1 1 1 1 27 1-8 1 23 1-47 1 11 1 17 1-2 1-23 1 16 1-11 1 14 1-23 1 55 1-31 1-3 1-56 1 47 1 27 1 13 1-50 1 73 1 11 1-73 1 46 1-50 1 33 1 0 1 15 1-15 1-14 1 10 1 13 1-27 1 28 1-33 1 23 1 18 1-38 1 22 1-70 1 49 1 65 1-76 1-1 1 46 1-30 1-7 1 4 1 36 1-32 1-35 1 74 1 1 1-15 1-19 1-25 1 74 1-96 1 81 1-4 1-8 1-4 1 11 1-22 1 22 1-5 1-15 1 1 1-1 1 34 1-61 1 19 1 40 1-53 1 27 1-8 1-37 1 42 1 17 1-26 1 29 1-11 1-4 1-48 1 53 1-5 1 9 1-2 1-37 1 9 1-16 1 36 1-25 1 51 1-10 1-51 1 43 1-28 1-34 1 60 1-44 1 21 1 26 1-1 1 51 1-51 1-17 1-17 1-31 1 39 1 10 1 47 1-53 1-30 1 44 1-4 1 14 1-13 1-22 1-18 1 28 1 4 1 10 1 27 1-39 1-8 1-50 1 82 1-48 1 21 1-13 1 25 1-10 1 0 1-12 1 38 1-47 1 18 1 40 1-55 1 78 1-60 1 42 1 12 1-47 1 12 1 26 1-20 1 48 1-40 1-26 1 33 1-25 1 43 1-81 1 76 1 10 1-11 1-38 1-51 1 29 1 20 1 36 1-31 1-19 1 23 1 26 1-44 1 12 1 5 1 5 1 10 1 7 1-66 1 50 1-15 1-19 1 27 1-4 1-7 1 18 1-19 1 14 1-5 1-1 1-2 1-8 1 39 1-15 1-7 1 12 1-35 1 49 1-73 1 31 1-32 1 26 1 22 1-7 1 46 1-42 1 5 1-12 1-22 1 42 1 15 1-61 1-17 1 4 1 33 1 15 1 9 1-69 1 16 1 41 1 6 1-19 1-4 1 25 1-27 1-24 1 72 1-11 1-29 1 6 1-17 1 58 1-27 1 12 1-28 1-19 1 77 1-43 1 15 1 8 1 13 1-32 1-48 1 49 1-26 1 7 1 31 1-18 1-14 1 5 1 14 1 21 1-2 1-63 1 45 1-4 1 9 1 0 1-2 1 9 1-18 1 23 1 17 1-53 1-19 1 20 1 7 1-6 1-13 1 5 1 32 1 5 1-42 1 16 1-28 1 16 1 20 1-13 1 7 1-29 1 27 1-34 1 38 1-1 1-19 1 16 1 10 1 5 1 38 1-10 1-47 1 53 1-38 1 53 1-48 1-21 1 25 1-11 1 32 1-40 1-2 1-45 1 48 1-9 1 0 1 40 1-6 1-18 1-4 1-15 1-5 1 36 1-6 1-31 1 23 1-5 1 6 1 38 1-54 1 48 1-7 1-22 1 20 1-11 1-15 1-36 1 11 1 7 1 15 1 7 1 33 1-30 1 40 1-13 1-2 1-26 1 4 1 14 1-22 1 9 1-40 1 52 1-5 1-18 1 42 1 5 1-26 1-26 1 26 1-4 1 14 1-30 1 22 1 4 1-5 1-2 1-9 1-11 1-14 1-24 1 1 1 29 1 6 1 40 1-16 1-30 1 7 1-5 1-2 1 62 1-62 1 26 1-15 1-20 1 22 1-32 1 32 1 23 1-42 1 47 1-40 1 5 1 9 1 29 1-47 1 30 1-32 1 40 1 32 1-90 1 34 1-8 1 2 1-26 1 39 1-20 1 6 1 22 1-16 1-7 1 56 1-37 1-10 1 6 1 1 1-4 1 16 1-32 1 50 1-28 1 24 1-32 1 46 1-27 1-9 1 35 1-34 1 16 1-25 1 70 1-63 1-10 1 17 1 17 1-42 1 41 1-32 1-5 1-7 1 51 1-59 1 11 1 2 1 12 1 8 1-20 1-1 1-36 1 78 1-17 1 13 1-11 1-46 1 55 1 14 1-67 1 58 1-41 1 5 1-16 1 8 1 21 1 11 1 0 1 2 1-22 1 20 1 3 1 8 1-11 1 23 1-34 1-50 1 65 1-4 1 10 1-45 1 45 1-12 1-31 1-4 1 47 1 28 1-32 1-34 1 26 1-28 1 13 1 14 1-13 1 32 1-62 1 39 1 21 1-21 1 19 1-29 1 24 1-41 1 25 1-4 1 18 1-27 1 14 1-73 1 63 1 23 1 13 1-17 1-9 1 41 1-42 1-5 1 11 1-8 1-21 1-14 1 14 1 29 1 7 1-3 1-22 1 1 1 30 1-34 1 5 1 42 1-29 1-15 1-2 1 41 1-27 1 4 1 1 1-47 1 23 1 24 1-6 1 10 1-28 1 1 1 28 1 28 1-57 1 20 1-19 1-15 1 33 1-4 1-48 1 40 1-2 1-19 1 15 1 55 1-86 1 18 1 53 1-17 1 6 1-10 1 1 1-14 1 38 1-68 1 50 1-53 1-4 1 44 1 40 1-23 1-12 1 38 1-39 1-14 1 30 1-45 1 78 1-40 1-10 1-10 1 29 1 22 1-56 1 18 1 2 1-25 1 46 1-19 1-18 1 29 1-37 1 27 1-3 1-24 1 7 1 18 1-45 1 41 1 8 1-5 1-3 1-29 1 25 1 4 1 16 1-10 1 19 1-21 1 6 1 8 1-15 1 30 1-66 1 7 1 53 1-58 1 20 1 1 1 21 1-23 1 0 1 64 1-52 1 8 1 15 1-11 1-15 1-12 1 10 1 21 1-2 1 10 1 1 1 30 1-17 1-27 1 3 1-2 1-4 1 3 1 2 1-17 1-9 1 7 1 27 1 11 1-18 1-7 1 16 1-16 1 7 1 16 1-58 1 15 1 69 1-49 1-13 1-7 1 14 1-15 1 12 1 3 1 33 1-37 1 25 1-32 1 79 1-87 1 22 1 6 1-5 1 20 1-2 1-11 1 35 1-49 1 9 1-2 1 6 1 6 1-8 1-9 1-2 1 5 1-12 1 5 1-12 1-22 1 59 1-32 1 39 1-39 1 28 1-33 1 51 1-43 1-15 1 23 1-13 1 80 1-82 1 40 1-67 1 66 1-43 1 20 1-14 1 33 1-28 1 20 1 7 1 4 1-18 1 33 1 0 1-42 1 22 1 13 1 25 1-60 1 32 1-13 1-22 1 20 1-33 1 24 1 52 1-28 1 10 1-17 1-16 1-16 1-18 1 13 1 71 1-57 1 16 1 20 1-49 1 35 1-34 1 22 1-25 1 66 1-31 1 23 1-50 1 27 1-26 1 76 1-65 1 15 1 11 1-28 1 26 1-20 1 7 1-19 1 34 1 12 1-61 1 34 1-10 1 13 1 12 1-21 1 3 1 2 1-3 1 15 1-37 1 22 1 9 1 18 1 13 1-33 1-4 1-25 1 4 1 27 1-10 1 15 1-64 1 40 1 15 1-8 1-3 1-12 1 12 1-4 1-1 1 14 1 13 1-16 1-21 1 52 1-45 1 17 1 6 1-8 1-27 1 15 1-19 1 63 1-50 1 54 1-20 1 1 1-15 1-22 1 13 1 5 1 49 1-38 1-30 1 18 1 38 1-25 1 0 1-15 1-19 1 61 1-8 1-58 1 30 1-5 1 35 1-30 1-25 1 64 1-34 1 5 1-1 1 1 1-35 1-18 1 50 1 10 1-11 1 30 1-41 1-26 1 60 1-9 1-17 1-50 1 83 1-47 1 30 1-30 1 51 1-30 1-27 1-23 1 62 1-52 1 34 1 17 1-45 1 45 1-13 1-18 1 10 1 13 1-20 1 26 1-23 1 7 1 11 1 9 1-17 1 7 1 39 1-40 1-48 1 68 1-29 1 19 1-19 1 5 1 19 1-16 1-25 1 42 1-44 1 36 1-4 1-16 1 2 1-29 1 16 1 78 1-109 1 65 1-42 1 11 1-33 1 17 1 20 1 16 1 13 1 5 1-30 1-17 1 41 1-19 1-30 1 67 1-20 1 7 1-27 1-15 1 30 1-23 1 40 1-40 1 0 1 35 1 0 1-19 1 15 1-15 1-22 1 38 1-48 1 23 1-6 1-6 1-4 1 16 1-10 1 6 1-6 1-6 1 7 1 19 1-12 1-20 1 13 1-16 1 17 1 11 1-11 1 6 1 25 1-32 1 17 1-24 1 46 1-33 1 3 1-17 1 31 1 4 1 10 1-38 1 21 1-49 1 9 1 54 1 0 1-24 1 2 1 46 1-34 1 8 1-10 1-13 1-23 1 33 1-8 1 0 1 9 1-10 1 30 1-55 1 36 1-30 1 13 1-19 1 23 1 22 1-10 1-13 1 37 1-54 1 54 1-40 1 31 1-24 1-9 1 41 1-48 1 24 1 7 1 6 1-42 1 40 1-46 1 31 1 8 1-1 1-9 1-2 1 7 1-20 1 37 1-3 1-23 1 18 1-23 1 16 1-20 1 21 1 2 1-17 1-28 1 63 1-13 1-4 1 5 1-15 1 12 1-6 1-35 1 6 1-13 1 13 1 5 1-3 1-31 1 43 1-18 1-7 1 34 1 16 1 4 1-12 1 5 1 31 1-68 1 39 1-31 1 23 1-13 1 6 1-7 1-6 1-8 1 39 1-4 1-3 1-17 1-27 1 27 1 23 1-51 1 52 1-9 1-13 1-19 1 44 1-55 1 23 1-7 1 15 1 5 1-4 1-20 1 4 1 17 1 5 1 35 1-11 1-32 1 6 1 14 1-4 1-16 1 19 1-14 1-26 1-27 1 10 1 17 1 8 1 6 1 27 1-47 1-6 1 37 1-9 1-8 1 2 1-46 1 34 1 32 1 0 1 23 1-11 1-26 1-22 1 19 1 23 1 10 1 35 1-13 1-24 1-24 1-9 1 2 1-33 1 48 1-14 1-10 1 15 1-3 1-16 1 32 1-4 1-5 1 28 1-5 1-23 1-21 1-8 1 36 1-10 1 28 1-35 1 21 1-21 1 4 1 34 1-35 1-3 1 14 1 45 1-72 1 34 1-46 1 27 1 13 1 3 1 17 1-52 1 4 1 18 1 5 1-6 1-3 1-7 1 20 1-14 1-2 1 34 1-2 1-11 1 0 1 6 1 25 1-36 1-10 1 3 1 8 1-24 1 16 1-20 1 14 1 12 1-4 1-29 1 3 1 12 1 15 1-30 1-14 1 37 1 17 1 11 1-11 1-4 1-4 1 17 1-26 1-3 1-14 1 4 1 4 1-11 1 28 1 7 1-28 1 29 1-17 1 39 1-43 1 11 1 6 1 6 1 13 1-22 1 45 1-57 1 4 1 43 1-41 1-2 1 15 1-29 1 40 1-39 1-12 1 11 1 24 1 14 1-6 1 7 1-25 1-6 1 29 1-49 1 34 1-9 1 10 1-48 1 23 1 18 1 3 1-45 1 54 1-1 1-9 1-13 1 3 1 51 1-43 1 4 1 28 1-20 1-9 1-33 1 45 1-37 1 9 1 29 1-17 1-11 1 24 1 18 1-14 1-9 1-11 1 19 1 3 1-40 1 46 1-61 1 57 1-30 1 1 1 34 1-5 1-15 1-12 1 3 1 30 1-41 1-10 1 27 1 4 1-7 1-30 1 49 1-35 1 7 1 31 1-17 1-23 1 32 1-11 1 18 1-3 1 31 1-31 1 11 1-26 1 1 1-12 1 12 1 1 1 8 1-56 1 55 1-23 1 42 1-47 1 14 1-12 1 30 1-29 1-5 1 6 1 19 1-5 1-21 1-23 1 54 1 3 1-37 1 20 1 6 1-19 1 10 1-32 1 18 1 19 1-14 1 30 1-4 1-11 1 7 1 11 1-20 1 21 1-15 1 12 1-37 1 2 1 21 1-22 1 29 1-9 1 0 1 35 1-75 1 61 1-15 1 25 1-47 1-7 1 12 1-1 1 31 1-27 1 10 1 0 1 1 1-2 1-10 1 8 1 23 1-10 1-17 1 11 1 13 1-56 1 25 1 13 1-4 1 25 1-21 1-3 1-29 1 70 1-25 1-43 1 18 1-9 1 51 1-30 1 3 1-20 1-51 1 72 1-15 1 7 1-9 1 5 1-9 1 17 1 2 1 20 1-9 1-21 1-8 1 62 1-49 1 39 1 19 1-48 1-32 1-13 1 40 1 12 1-43 1-2 1 29 1-12 1 26 1-22 1 21 1-6 1 9 1-6 1-2 1 1 1-13 1 5 1-30 1 65 1-24 1-16 1-49 1 40 1 16 1 34 1-22 1-7 1 8 1 24 1-72 1 37 1 13 1 27 1-13 1-49 1 38 1-8 1-13 1-36 1 52 1-18 1 22 1-41 1 4 1 37 1-53 1 38 1-2 1-6 1 20 1 23 1-41 1 2 1 1 1 5 1 6 1 8 1-9 1 0 1-13 1 45 1-52 1-4 1 11 1-8 1-14 1 37 1-28 1 60 1-60 1 11 1-25 1 62 1-45 1-13 1 30 1-25 1 28 1-6 1 13 1 25 1-23 1-30 1-25 1 81 1-28 1-25 1 16 1 5 1-28 1 33 1 8 1-16 1 4 1-19 1 13 1-37 1 27 1 68 1-65 1 0 1-3 1 25 1-8 1 16 1-35 1 1 1 13 1-11 1-11 1 3 1 5 1 50 1-54 1 52 1-47 1-22 1 44 1-4 1 24 1-53 1 53 1-75 1 3 1 51 1 16 1-15 1-42 1 34 1 15 1 0 1-7 1 4 1-22 1-28 1 43 1-5 1-4 1-73 1 32 1 42 1-46 1 39 1-56 1 32 1-63 1 58 1-17 1-26 1 3 1-1 1-22 1-5 1 42 1-32 1-23 1 18 1-20 1-48 1-6 1 24 1-36 1 21 1-25 1-20 1 0 1-38 1 64 1-27 1-11 1 36 1-33 1-38 1 48 1 1 1-20 1 42 1-39 1 10 1 23 1-8 1-14 1 24 1 9 1 44 1-25 1-24 1 29 1 7 1 20 1-14 1 5 1 40 1-23 1 45 1-15 1 0 1 3 1 16 1 4 1-22 1 44 1-26 1 22 1-10 1 39 1-36 1-11 1 17 1 20 1-21 1-28 1 34 1-10 1 37 1-18 1-5 1 23 1-24 1-37 1 33 1-5 1 16 1-28 1 21 1 4 1-10 1-9 1 36 1-39 1 48 1-13 1-6 1-15 1 8 1 1 1-13 1 0 1 21 1-22 1 20 1-16 1-7 1 32 1-22 1-8 1 8 1 22 1-26 1 10 1-25 1 32 1-5 1-18 1 31 1 1 1 6 1-27 1-11 1 49 1-62 1 38 1-1 1 7 1-6 1 3 1-9 1 11 1-8 1 9 1 43 1-74 1-22 1 53 1 39 1-62 1 44 1-22 1 8 1-18 1 37 1-30 1 31 1 19 1-6 1-20 1-56 1 41 1 11 1-21 1-2 1-9 1 62 1-37 1-14 1 1 1 17 1 2 1-31 1 18 1 8 1-7 1 39 1-32 1-3 1-61 1 48 1 33 1 10 1-22 1 5 1-26 1-5 1 4 1 29 1-16 1-23 1 43 1-35 1-6 1 16 1 13 1-16 1 19 1-14 1 22 1-23 1 17 1-23 1 18 1-8 1-21 1 45 1-32 1 13 1-15 1 9 1-1 1-10 1 13 1-2 1 11 1-15 1 19 1-21 1 0 1 2 1-2 1 5 1 9 1-3 1-21 1-13 1-2 1 63 1-55 1 19 1 37 1-24 1-5 1-15 1 0 1 14 1 10 1 2 1-4 1-30 1 10 1 6 1 8 1 24 1-29 1-8 1 14 1-2 1 12 1-17 1-8 1-17 1 20 1 9 1-9 1 18 1-5 1 1 1-39 1 52 1-10 1-58 1 35 1-30 1 27 1-5 1-5 1 35 1 4 1-22 1-14 1 41 1-33 1 10 1 11 1-11 1-8 1 6 1 11 1 4 1-17 1-21 1 34 1-5 1 19 1-18 1-12 1-4 1 24 1-44 1 33 1-22 1 28 1-5 1-1 1 7 1 12 1 3 1-31 1 29 1-18 1 4 1-4 1 2 1-16 1-10 1 7 1 21 1 24 1-48 1 35 1-44 1 21 1 21 1 2 1-19 1 39 1-36 1-7 1-25 1 28 1-5 1-3 1 20 1-22 1-7 1 4 1 26 1-19 1 26 1-6 1-21 1-36 1 46 1-1 1 15 1 10 1-20 1-22 1-3 1 7 1 1 1-2 1 5 1 38 1-65 1-20 1 43 1-3 1-18 1 46 1-12 1 12 1-3 1-6 1-17 1-10 1 17 1 10 1-40 1 8 1 4 1 1 1-20 1 22 1-1 1 10 1-35 1 4 1 32 1 9 1 6 1-18 1-35 1 15 1-48 1 40 1-32 1-34 1 78 1-23 1 29 1-18 1 30 1-2 1 0 1-41 1 17 1-17 1 44 1-24 1 32 1-28 1 8 1 15 1-31 1 23 1-53 1 33 1 32 1 30 1-84 1 65 1-3 1-33 1-9 1 13 1-1 1 11 1-35 1 30 1-13 1 4 1 19 1-6 1-47 1 42 1-2 1 11 1-8 1 0 1-10 1 6 1 15 1-42 1 21 1-2 1-6 1-27 1 60 1-28 1 34 1 17 1-63 1 33 1-14 1 9 1 3 1 1 1-4 1-8 1-19 1 6 1-11 1-3 1 25 1-15 1-18 1-3 1 26 1-10 1 26 1-7 1 8 1 17 1-41 1 23 1-20 1-2 1 11 1-28 1 36 1-6 1-5 1 8 1-17 1 23 1-51 1 16 1 30 1-13 1 14 1-48 1 34 1-3 1 8 1-26 1 47 1-12 1-2 1-1 1-13 1-8 1 38 1-7 1-18 1-17 1 14 1 28 1-13 1 19 1-6 1 1 1-15 1-11 1-3 1-14 1-2 1 25 1-20 1-25 1 46 1-32 1 14 1-3 1-4 1 33 1-19 1-40 1 79 1-54 1 19 1-7 1-21 1-33 1-15 1 71 1-64 1 46 1-45 1 13 1 39 1-24 1 15 1-8 1-4 1 42 1-14 1-5 1-13 1-5 1 14 1 15 1 5 1-2 1 7 1-42 1 47 1-29 1 2 1 33 1-11 1-17 1 6 1-20 1 9 1 18 1-11 1 22 1-27 1 13 1-35 1 29 1 5 1-8 1-29 1 36 1-36 1 24 1 18 1-11 1-16 1 24 1-39 1 51 1-11 1-58 1 53 1 16 1-12 1-9 1-20 1-3 1 28 1 0 1 23 1-45 1 49 1-10 1-7 1-6 1-13 1-7 1 23 1-21 1 23 1 21 1-1 1-5 1-17 1-9 1 28 1-4 1-35 1-2 1 19 1 2 1-22 1-13 1 26 1-1 1 13 1-27 1 27 1-14 1 16 1 20 1-18 1-9 1 17 1-42 1 18 1 7 1-3 1-7 1 45 1-29 1 6 1-7 1-32 1 43 1 0 1-15 1-4 1 9 1-33 1 57 1-35 1 14 1-3 1-24 1 27 1-4 1 0 1 9 1-26 1-5 1 23 1 20 1-6 1-1 1-28 1-5 1 35 1 4 1-14 1 0 1-6 1-24 1 36 1 6 1-4 1-6 1 17 1-37 1-11 1 45 1-16 1 16 1-13 1 10 1 13 1-19 1-28 1 62 1-37 1 16 1-19 1-11 1 8 1-43 1 57 1-19 1 42 1-18 1 12 1-12 1-22 1 14 1 17 1-22 1 7 1-2 1 6 1-7 1 24 1-9 1-13 1 6 1-19 1 10 1 8 1 0 1-43 1 26 1-10 1 59 1-16 1-11 1-22 1 9 1 8 1 19 1-46 1 5 1-6 1 3 1 7 1 6 1 24 1-30 1 15 1-9 1-22 1 47 1-4 1-16 1-6 1 8 1 10 1-24 1 1 1 18 1-25 1-7 1 29 1-13 1-19 1 50 1-16 1-26 1-6 1 13 1 7 1 23 1-32 1 18 1-29 1 32 1 3 1 17 1-11 1-33 1 20 1 11 1-23 1 2 1 9 1 1 1-26 1 30 1 11 1-21 1 12 1 2 1-7 1-12 1 1 1 38 1-4 1-51 1 17 1 19 1-5 1 35 1-56 1 28 1-5 1-2 1-17 1-2 1 11 1-30 1 61 1-21 1 17 1-15 1 33 1-32 1-2 1 28 1-16 1 30 1-41 1 0 1 12 1-10 1 1 1 7 1-33 1 20 1 12 1-24 1-7 1-21 1 34 1 1 1-2 1 37 1 8 1-51 1-2 1 23 1 7 1-28 1 8 1 13 1-34 1 13 1 26 1 7 1-16 1-4 1 20 1-15 1-24 1 33 1 12 1-12 1-14 1 1 1-18 1 3 1 11 1 4 1-5 1 11 1-1 1 7 1-32 1 40 1 22 1-33 1 16 1-14 1-35 1 52 1-22 1-24 1-8 1 48 1-3 1-21 1-1 1 26 1-17 1-7 1-10 1 17 1-31 1 52 1-19 1 1 1-19 1 17 1-13 1 8 1-18 1 22 1-12 1 7 1-6 1-17 1 62 1-63 1 1 1 5 1 47 1-16 1-18 1 3 1 30 1-25 1-12 1 1 1 43 1-54 1 64 1-39 1 45 1-43 1-8 1-25 1-5 1 30 1-11 1 4 1-2 1 6 1-15 1 51 1-21 1 19 1-19 1-18 1 31 1 12 1-31 1 11 1-3 1-6 1 17 1-8 1 12 1-39 1 5 1 34 1-26 1 13 1-30 1 32 1 14 1-38 1 23 1-4 1-7 1-20 1 31 1 3 1-10 1-19 1 33 1-10 1-9 1 17 1-24 1 12 1 3 1 3 1-25 1 15 1 4 1 3 1 5 1-12 1 18 1-20 1-12 1 22 1-18 1-1 1 50 1-35 1 0 1 20 1-39 1 0 1 54 1-40 1-5 1 23 1-54 1 42 1-10 1 25 1-6 1 2 1 7 1-15 1-22 1 31 1-3 1 10 1-11 1-7 1 27 1-50 1 30 1-26 1-5 1 24 1-6 1-35 1 50 1-18 1 18 1 15 1-29 1-13 1 15 1-19 1 10 1 16 1-5 1 0 1-22 1 39 1-86 1 63 1-3 1-14 1 23 1-14 1-10 1 11 1 21 1 1 1-3 1-24 1 6 1 25 1-30 1 23 1-21 1 17 1-8 1-7 1 13 1 29 1-23"/>
<path d="M131.8 216.5V243.5M238.3 216.5V243.5M258.5 216.5V243.5M271.7 216.5V243.5M308.1 216.5V243.5M311.5 216.5V243.5M327.0 216.5V243.5M388.7 216.5V243.5M398.8 216.5V243.5M427.0 216.5V243.5M442.6 216.5V243.5M451.4 216.5V243.5M481.1 216.5V243.5M501.8 216.5V243.5M526.4 216.5V243.5M540.0 216.5V243.5M548.2 216.5V243.5M572.8 216.5V243.5M584.6 216.5V243.5M586.2 216.5V243.5M593.6 216.5V243.5M615.5 216.5V243.5M617.0 216.5V243.5M618.5 216.5V243.5M636.0 216.5V243.5M656.0 216.5V243.5M661.0 216.5V243.5M671.4 216.5V243.5M678.6 216.5V243.5M702.0 216.5V243.5M711.6 216.5V243.5M719.0 216.5V243.5M738.0 216.5V243.5M741.0 216.5V243.5M750.0 216.5V243.5M780.6 216.5V243.5M792.6 216.5V243.5M799.6 216.5V243.5M818.0 216.5V243.5M823.0 216.5V243.5M830.4 216.5V243.5" stroke="#1010d0" stroke-width="2" fill="none"/>
<path d="M296.4 406.5V433.5M350.9 406.5V433.5M527.2 406.5V433.5M639.0 406.5V433.5M673.9 406.5V433.5M809.8 406.5V433.5" stroke="#d0202c" stroke-width="2.2" fill="none"/>
<rect x="52" y="2.75" width="779" height="701.25" fill="none" stroke="#000" stroke-width="2"/>
<path d="M100.7 704V698.5M100.7 2.75V8.25M149.4 704V693M149.4 2.75V13.75M198.1 704V698.5M198.1 2.75V8.25M246.8 704V693M246.8 2.75V13.75M295.4 704V698.5M295.4 2.75V8.25M344.1 704V693M344.1 2.75V13.75M392.8 704V698.5M392.8 2.75V8.25M441.5 704V693M441.5 2.75V13.75M490.2 704V698.5M490.2 2.75V8.25M538.9 704V693M538.9 2.75V13.75M587.6 704V698.5M587.6 2.75V8.25M636.2 704V693M636.2 2.75V13.75M684.9 704V698.5M684.9 2.75V8.25M733.6 704V693M733.6 2.75V13.75M782.3 704V698.5M782.3 2.75V8.25" stroke="#000" stroke-width="1.8" fill="none"/>
<text transform="translate(149.38,742.5) scale(1,1.1)" font-size="32" text-anchor="middle">20</text>
<text transform="translate(246.75,742.5) scale(1,1.1)" font-size="32" text-anchor="middle">30</text>
<text transform="translate(344.12,742.5) scale(1,1.1)" font-size="32" text-anchor="middle">40</text>
<text transform="translate(441.50,742.5) scale(1,1.1)" font-size="32" text-anchor="middle">50</text>
<text transform="translate(538.88,742.5) scale(1,1.1)" font-size="32" text-anchor="middle">60</text>
<text transform="translate(636.25,742.5) scale(1,1.1)" font-size="32" text-anchor="middle">70</text>
<text transform="translate(733.62,742.5) scale(1,1.1)" font-size="32" text-anchor="middle">80</text>
<text transform="translate(831.00,742.5) scale(1,1.1)" font-size="32" text-anchor="middle">90</text>
<text transform="translate(52,742.5) scale(1,1.1)" font-size="32">0</text>
<path d="M46.3 742.5H43.2V722.6L37.6 726.9L37.1 724.2Q41.8 721.6 44.1 718.6H46.3Z" fill="#000"/>
<text x="394.6" y="791" font-size="38">2</text>
<text transform="translate(416,791.2) scale(1.17,1)" font-size="38.5" style="font-family:'Liberation Serif',serif">θ</text>
<text x="447.9" y="791" font-size="39.5">(°)</text>
<text transform="translate(29.8,353.3) rotate(-90)" font-size="38.7" text-anchor="middle">Intensity (arb. u.)</text>
<text transform="translate(635.3,144.1) scale(1,1.04)" font-size="30.3">Mn<tspan font-size="20" dy="8">3</tspan><tspan dy="-8">O</tspan><tspan font-size="20" dy="8">4</tspan><tspan dy="-8">@CNT</tspan></text>
<text transform="translate(635.3,340.9) scale(1,1.04)" font-size="30.3">MnO@CNT</text>
<text transform="translate(635.8,633) scale(1,1.04)" font-size="30.3">CNT</text>
</svg></body></html>
